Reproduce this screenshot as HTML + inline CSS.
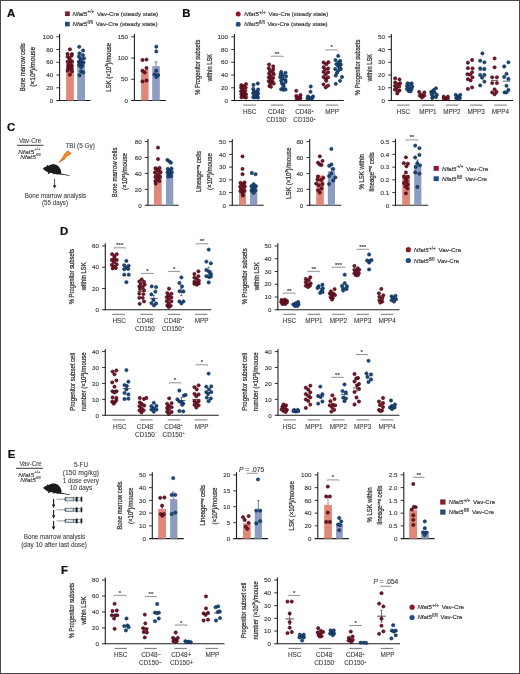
<!DOCTYPE html>
<html><head><meta charset="utf-8"><style>
html,body{margin:0;padding:0;background:#fff;overflow:hidden;}
svg{display:block;font-family:"Liberation Sans", sans-serif;will-change:transform;}
text{stroke:#3a3a3a;stroke-width:0.14px;}
</style></head><body>
<svg width="520" height="674" viewBox="0 0 520 674">
<rect width="520" height="674" fill="#fff"/>
<rect x="0.5" y="0.5" width="519" height="673" fill="none" stroke="#4a4a4a" stroke-width="1"/>
<text x="7.00" y="16.50" font-size="11.4" fill="#0c0c0c" font-weight="bold" style="stroke:#0c0c0c;stroke-width:0.2px">A</text>
<text x="182.30" y="16.50" font-size="11.4" fill="#0c0c0c" font-weight="bold" style="stroke:#0c0c0c;stroke-width:0.2px">B</text>
<text x="7.10" y="130.90" font-size="11.4" fill="#0c0c0c" font-weight="bold" style="stroke:#0c0c0c;stroke-width:0.2px">C</text>
<text x="59.90" y="234.50" font-size="11.4" fill="#0c0c0c" font-weight="bold" style="stroke:#0c0c0c;stroke-width:0.2px">D</text>
<text x="7.80" y="457.50" font-size="11.4" fill="#0c0c0c" font-weight="bold" style="stroke:#0c0c0c;stroke-width:0.2px">E</text>
<text x="61.00" y="573.50" font-size="11.4" fill="#0c0c0c" font-weight="bold" style="stroke:#0c0c0c;stroke-width:0.2px">F</text>
<rect x="65.00" y="11.40" width="4.80" height="4.60" fill="#8b1a2b" />
<rect x="65.00" y="21.80" width="4.80" height="4.60" fill="#1f4e80" />
<text x="72.60" y="15.70" font-size="6.1" fill="#3c3c3c" font-style="italic" textLength="14.5" lengthAdjust="spacingAndGlyphs" style="stroke-width:0.2px">Nfat5</text>
<text x="87.50" y="13.40" font-size="4.5" fill="#3c3c3c" textLength="6.6" lengthAdjust="spacingAndGlyphs" style="stroke-width:0.14px">+/+</text>
<text x="96.90" y="15.70" font-size="6.1" fill="#3c3c3c" textLength="61.30" lengthAdjust="spacingAndGlyphs" style="stroke-width:0.2px">Vav-Cre (steady state)</text>
<text x="72.60" y="26.10" font-size="6.1" fill="#3c3c3c" font-style="italic" textLength="14.5" lengthAdjust="spacingAndGlyphs" style="stroke-width:0.2px">Nfat5</text>
<text x="87.50" y="23.80" font-size="4.5" fill="#3c3c3c" textLength="5.4" lengthAdjust="spacingAndGlyphs" style="stroke-width:0.14px">fl/fl</text>
<text x="95.80" y="26.10" font-size="6.1" fill="#3c3c3c" textLength="61.80" lengthAdjust="spacingAndGlyphs" style="stroke-width:0.2px">Vav-Cre (steady state)</text>
<line x1="59.60" y1="34.10" x2="59.60" y2="101.00" stroke="#1e1e1e" stroke-width="1.1" />
<line x1="56.40" y1="100.50" x2="90.50" y2="100.50" stroke="#1e1e1e" stroke-width="1.1" />
<text x="53.20" y="102.70" font-size="6.2" fill="#3c3c3c" text-anchor="end" >0</text>
<line x1="56.40" y1="87.76" x2="59.60" y2="87.76" stroke="#1e1e1e" stroke-width="0.9" />
<text x="53.20" y="89.96" font-size="6.2" fill="#3c3c3c" text-anchor="end" >20</text>
<line x1="56.40" y1="75.02" x2="59.60" y2="75.02" stroke="#1e1e1e" stroke-width="0.9" />
<text x="53.20" y="77.22" font-size="6.2" fill="#3c3c3c" text-anchor="end" >40</text>
<line x1="56.40" y1="62.28" x2="59.60" y2="62.28" stroke="#1e1e1e" stroke-width="0.9" />
<text x="53.20" y="64.48" font-size="6.2" fill="#3c3c3c" text-anchor="end" >60</text>
<line x1="56.40" y1="49.54" x2="59.60" y2="49.54" stroke="#1e1e1e" stroke-width="0.9" />
<text x="53.20" y="51.74" font-size="6.2" fill="#3c3c3c" text-anchor="end" >80</text>
<line x1="56.40" y1="36.80" x2="59.60" y2="36.80" stroke="#1e1e1e" stroke-width="0.9" />
<text x="53.20" y="39.00" font-size="6.2" fill="#3c3c3c" text-anchor="end" >100</text>
<rect x="66.10" y="62.28" width="7.80" height="38.22" fill="#e2887a" />
<rect x="77.20" y="61.32" width="7.80" height="39.18" fill="#8d9cc0" />
<g fill="#7c1429" stroke="#32060f" stroke-width="0.55"><circle cx="69.90" cy="49.30" r="1.65"/><circle cx="67.60" cy="53.80" r="1.65"/><circle cx="71.90" cy="54.10" r="1.65"/><circle cx="67.60" cy="56.60" r="1.65"/><circle cx="71.60" cy="55.80" r="1.65"/><circle cx="69.30" cy="58.30" r="1.65"/><circle cx="67.60" cy="61.70" r="1.65"/><circle cx="72.10" cy="61.40" r="1.65"/><circle cx="69.90" cy="63.40" r="1.65"/><circle cx="68.20" cy="65.70" r="1.65"/><circle cx="71.60" cy="65.70" r="1.65"/><circle cx="68.20" cy="68.50" r="1.65"/><circle cx="71.60" cy="68.50" r="1.65"/><circle cx="67.60" cy="70.70" r="1.65"/><circle cx="71.90" cy="71.30" r="1.65"/><circle cx="69.90" cy="74.70" r="1.65"/><circle cx="70.00" cy="60.00" r="1.65"/><circle cx="69.50" cy="67.00" r="1.65"/></g>
<g fill="#194a80" stroke="#0a2242" stroke-width="0.55"><circle cx="79.20" cy="46.80" r="1.65"/><circle cx="83.10" cy="50.50" r="1.65"/><circle cx="79.50" cy="53.30" r="1.65"/><circle cx="82.80" cy="55.20" r="1.65"/><circle cx="78.90" cy="56.60" r="1.65"/><circle cx="84.00" cy="58.30" r="1.65"/><circle cx="80.60" cy="58.90" r="1.65"/><circle cx="78.90" cy="61.70" r="1.65"/><circle cx="83.40" cy="62.30" r="1.65"/><circle cx="80.60" cy="63.40" r="1.65"/><circle cx="78.90" cy="65.10" r="1.65"/><circle cx="82.30" cy="65.70" r="1.65"/><circle cx="81.20" cy="71.30" r="1.65"/><circle cx="83.40" cy="72.40" r="1.65"/><circle cx="79.50" cy="75.20" r="1.65"/><circle cx="81.00" cy="60.50" r="1.65"/><circle cx="81.00" cy="67.00" r="1.65"/></g>
<text x="0" y="0" font-size="7.1" fill="#3c3c3c" style="stroke-width:0.28px" text-anchor="middle" transform="translate(25.20,67.35) rotate(-90)" textLength="48" lengthAdjust="spacingAndGlyphs">Bone marrow cells</text>
<text x="0" y="0" font-size="7.1" fill="#3c3c3c" style="stroke-width:0.28px" text-anchor="middle" transform="translate(35.40,66.85) rotate(-90)" textLength="40" lengthAdjust="spacingAndGlyphs">(×10<tspan font-size="4.4" dy="-2.2">6</tspan><tspan dy="2.2">)/mouse</tspan></text>
<line x1="134.40" y1="34.10" x2="134.40" y2="101.00" stroke="#1e1e1e" stroke-width="1.1" />
<line x1="131.20" y1="100.50" x2="166.00" y2="100.50" stroke="#1e1e1e" stroke-width="1.1" />
<text x="128.00" y="102.70" font-size="6.2" fill="#3c3c3c" text-anchor="end" >0</text>
<line x1="131.20" y1="79.27" x2="134.40" y2="79.27" stroke="#1e1e1e" stroke-width="0.9" />
<text x="128.00" y="81.47" font-size="6.2" fill="#3c3c3c" text-anchor="end" >50</text>
<line x1="131.20" y1="58.03" x2="134.40" y2="58.03" stroke="#1e1e1e" stroke-width="0.9" />
<text x="128.00" y="60.23" font-size="6.2" fill="#3c3c3c" text-anchor="end" >100</text>
<line x1="131.20" y1="36.80" x2="134.40" y2="36.80" stroke="#1e1e1e" stroke-width="0.9" />
<text x="128.00" y="39.00" font-size="6.2" fill="#3c3c3c" text-anchor="end" >150</text>
<rect x="141.10" y="69.63" width="7.50" height="30.87" fill="#e2887a" />
<rect x="152.20" y="66.10" width="7.60" height="34.40" fill="#8d9cc0" />
<line x1="156.00" y1="61.86" x2="156.00" y2="66.10" stroke="#2a4a70" stroke-width="0.7" />
<line x1="154.70" y1="61.86" x2="157.30" y2="61.86" stroke="#2a4a70" stroke-width="0.7" />
<g fill="#7c1429" stroke="#32060f" stroke-width="0.55"><circle cx="142.50" cy="60.00" r="1.65"/><circle cx="146.50" cy="59.60" r="1.65"/><circle cx="146.50" cy="68.00" r="1.65"/><circle cx="142.50" cy="70.70" r="1.65"/><circle cx="144.70" cy="72.50" r="1.65"/><circle cx="142.50" cy="81.40" r="1.65"/><circle cx="146.50" cy="80.50" r="1.65"/></g>
<g fill="#194a80" stroke="#0a2242" stroke-width="0.55"><circle cx="156.30" cy="46.70" r="1.65"/><circle cx="156.30" cy="51.40" r="1.65"/><circle cx="156.30" cy="70.70" r="1.65"/><circle cx="154.50" cy="74.30" r="1.65"/><circle cx="158.00" cy="75.20" r="1.65"/><circle cx="156.30" cy="77.00" r="1.65"/></g>
<text x="0" y="0" font-size="7.1" fill="#3c3c3c" style="stroke-width:0.28px" text-anchor="middle" transform="translate(110.60,67.30) rotate(-90)" textLength="48.8" lengthAdjust="spacingAndGlyphs">LSK (×10<tspan font-size="4.4" dy="-2.2">3</tspan><tspan dy="2.2">)/mouse</tspan></text>
<circle cx="238.20" cy="14.10" r="2.5" fill="#8b1a2b"/>
<circle cx="238.20" cy="24.30" r="2.5" fill="#1f4e80"/>
<text x="244.30" y="15.80" font-size="6.1" fill="#3c3c3c" font-style="italic" textLength="14.5" lengthAdjust="spacingAndGlyphs" style="stroke-width:0.2px">Nfat5</text>
<text x="259.20" y="13.50" font-size="4.5" fill="#3c3c3c" textLength="6.6" lengthAdjust="spacingAndGlyphs" style="stroke-width:0.14px">+/+</text>
<text x="268.60" y="15.80" font-size="6.1" fill="#3c3c3c" textLength="59.60" lengthAdjust="spacingAndGlyphs" style="stroke-width:0.2px">Vav-Cre (steady state)</text>
<text x="244.30" y="26.20" font-size="6.1" fill="#3c3c3c" font-style="italic" textLength="14.5" lengthAdjust="spacingAndGlyphs" style="stroke-width:0.2px">Nfat5</text>
<text x="259.20" y="23.90" font-size="4.5" fill="#3c3c3c" textLength="5.4" lengthAdjust="spacingAndGlyphs" style="stroke-width:0.14px">fl/fl</text>
<text x="267.50" y="26.20" font-size="6.1" fill="#3c3c3c" textLength="60.10" lengthAdjust="spacingAndGlyphs" style="stroke-width:0.2px">Vav-Cre (steady state)</text>
<line x1="234.40" y1="34.10" x2="234.40" y2="101.00" stroke="#1e1e1e" stroke-width="1.1" />
<line x1="231.20" y1="100.50" x2="343.80" y2="100.50" stroke="#1e1e1e" stroke-width="1.1" />
<text x="228.00" y="102.70" font-size="6.2" fill="#3c3c3c" text-anchor="end" >0</text>
<line x1="231.20" y1="87.76" x2="234.40" y2="87.76" stroke="#1e1e1e" stroke-width="0.9" />
<text x="228.00" y="89.96" font-size="6.2" fill="#3c3c3c" text-anchor="end" >20</text>
<line x1="231.20" y1="75.02" x2="234.40" y2="75.02" stroke="#1e1e1e" stroke-width="0.9" />
<text x="228.00" y="77.22" font-size="6.2" fill="#3c3c3c" text-anchor="end" >40</text>
<line x1="231.20" y1="62.28" x2="234.40" y2="62.28" stroke="#1e1e1e" stroke-width="0.9" />
<text x="228.00" y="64.48" font-size="6.2" fill="#3c3c3c" text-anchor="end" >60</text>
<line x1="231.20" y1="49.54" x2="234.40" y2="49.54" stroke="#1e1e1e" stroke-width="0.9" />
<text x="228.00" y="51.74" font-size="6.2" fill="#3c3c3c" text-anchor="end" >80</text>
<line x1="231.20" y1="36.80" x2="234.40" y2="36.80" stroke="#1e1e1e" stroke-width="0.9" />
<text x="228.00" y="39.00" font-size="6.2" fill="#3c3c3c" text-anchor="end" >100</text>
<text x="0" y="0" font-size="7.1" fill="#3c3c3c" style="stroke-width:0.28px" text-anchor="middle" transform="translate(200.00,67.20) rotate(-90)" textLength="55" lengthAdjust="spacingAndGlyphs">% Progenitor subsets</text>
<text x="0" y="0" font-size="7.1" fill="#3c3c3c" style="stroke-width:0.28px" text-anchor="middle" transform="translate(211.55,67.50) rotate(-90)" textLength="27.5" lengthAdjust="spacingAndGlyphs">within LSK</text>
<g fill="#7c1429" stroke="#32060f" stroke-width="0.55"><circle cx="246.00" cy="84.10" r="1.65"/><circle cx="241.40" cy="85.20" r="1.65"/><circle cx="243.80" cy="86.20" r="1.65"/><circle cx="241.10" cy="87.60" r="1.65"/><circle cx="245.70" cy="87.60" r="1.65"/><circle cx="242.70" cy="89.50" r="1.65"/><circle cx="241.10" cy="91.30" r="1.65"/><circle cx="245.40" cy="90.80" r="1.65"/><circle cx="243.50" cy="92.70" r="1.65"/><circle cx="241.40" cy="94.30" r="1.65"/><circle cx="246.00" cy="94.30" r="1.65"/><circle cx="243.00" cy="95.90" r="1.65"/><circle cx="244.30" cy="97.00" r="1.65"/><circle cx="246.00" cy="97.50" r="1.65"/><circle cx="241.50" cy="97.30" r="1.65"/></g>
<g fill="#194a80" stroke="#0a2242" stroke-width="0.55"><circle cx="257.80" cy="83.50" r="1.65"/><circle cx="253.50" cy="84.90" r="1.65"/><circle cx="253.20" cy="88.90" r="1.65"/><circle cx="258.10" cy="89.50" r="1.65"/><circle cx="254.00" cy="90.80" r="1.65"/><circle cx="257.50" cy="91.60" r="1.65"/><circle cx="253.20" cy="93.20" r="1.65"/><circle cx="255.90" cy="93.20" r="1.65"/><circle cx="258.10" cy="93.80" r="1.65"/><circle cx="254.30" cy="95.90" r="1.65"/><circle cx="257.00" cy="96.20" r="1.65"/><circle cx="255.40" cy="97.30" r="1.65"/><circle cx="253.30" cy="97.30" r="1.65"/><circle cx="258.00" cy="97.60" r="1.65"/></g>
<g fill="#7c1429" stroke="#32060f" stroke-width="0.55"><circle cx="269.10" cy="64.50" r="1.65"/><circle cx="273.20" cy="66.30" r="1.65"/><circle cx="268.80" cy="68.20" r="1.65"/><circle cx="273.20" cy="69.30" r="1.65"/><circle cx="269.90" cy="70.90" r="1.65"/><circle cx="272.60" cy="72.00" r="1.65"/><circle cx="269.10" cy="73.60" r="1.65"/><circle cx="273.70" cy="74.20" r="1.65"/><circle cx="270.50" cy="75.80" r="1.65"/><circle cx="273.20" cy="77.90" r="1.65"/><circle cx="268.80" cy="81.20" r="1.65"/><circle cx="272.60" cy="81.70" r="1.65"/><circle cx="270.50" cy="83.30" r="1.65"/><circle cx="273.70" cy="83.60" r="1.65"/><circle cx="269.40" cy="86.00" r="1.65"/><circle cx="271.00" cy="86.80" r="1.65"/><circle cx="268.80" cy="77.50" r="1.65"/><circle cx="271.00" cy="79.50" r="1.65"/></g>
<g fill="#194a80" stroke="#0a2242" stroke-width="0.55"><circle cx="281.20" cy="72.00" r="1.65"/><circle cx="285.50" cy="72.80" r="1.65"/><circle cx="280.70" cy="74.20" r="1.65"/><circle cx="282.80" cy="75.20" r="1.65"/><circle cx="286.10" cy="76.30" r="1.65"/><circle cx="280.20" cy="77.10" r="1.65"/><circle cx="282.80" cy="78.50" r="1.65"/><circle cx="285.50" cy="80.10" r="1.65"/><circle cx="281.20" cy="80.60" r="1.65"/><circle cx="285.50" cy="82.00" r="1.65"/><circle cx="281.80" cy="83.30" r="1.65"/><circle cx="283.40" cy="84.90" r="1.65"/><circle cx="281.20" cy="89.20" r="1.65"/><circle cx="283.40" cy="89.80" r="1.65"/><circle cx="285.50" cy="89.50" r="1.65"/><circle cx="283.50" cy="86.50" r="1.65"/></g>
<g fill="#7c1429" stroke="#32060f" stroke-width="0.55"><circle cx="296.30" cy="90.80" r="1.65"/><circle cx="296.30" cy="96.00" r="1.65"/><circle cx="300.50" cy="95.00" r="1.65"/><circle cx="298.00" cy="97.50" r="1.65"/><circle cx="300.50" cy="98.00" r="1.65"/><circle cx="296.80" cy="98.50" r="1.65"/><circle cx="299.00" cy="99.00" r="1.65"/></g>
<g fill="#194a80" stroke="#0a2242" stroke-width="0.55"><circle cx="310.80" cy="86.50" r="1.65"/><circle cx="310.50" cy="91.80" r="1.65"/><circle cx="308.00" cy="96.50" r="1.65"/><circle cx="313.00" cy="96.50" r="1.65"/><circle cx="309.50" cy="98.00" r="1.65"/><circle cx="312.00" cy="98.30" r="1.65"/><circle cx="310.50" cy="98.80" r="1.65"/><circle cx="307.50" cy="98.60" r="1.65"/></g>
<g fill="#7c1429" stroke="#32060f" stroke-width="0.55"><circle cx="323.60" cy="62.50" r="1.65"/><circle cx="328.40" cy="62.20" r="1.65"/><circle cx="326.30" cy="64.20" r="1.65"/><circle cx="323.60" cy="67.20" r="1.65"/><circle cx="328.10" cy="68.40" r="1.65"/><circle cx="325.10" cy="69.60" r="1.65"/><circle cx="323.60" cy="71.90" r="1.65"/><circle cx="328.10" cy="72.20" r="1.65"/><circle cx="325.70" cy="74.30" r="1.65"/><circle cx="323.60" cy="77.00" r="1.65"/><circle cx="328.10" cy="77.30" r="1.65"/><circle cx="325.70" cy="79.10" r="1.65"/><circle cx="326.30" cy="80.80" r="1.65"/><circle cx="323.60" cy="84.40" r="1.65"/><circle cx="328.10" cy="85.60" r="1.65"/><circle cx="325.70" cy="87.40" r="1.65"/></g>
<g fill="#194a80" stroke="#0a2242" stroke-width="0.55"><circle cx="338.20" cy="55.90" r="1.65"/><circle cx="335.50" cy="60.10" r="1.65"/><circle cx="340.20" cy="61.00" r="1.65"/><circle cx="336.40" cy="64.20" r="1.65"/><circle cx="340.80" cy="64.50" r="1.65"/><circle cx="338.20" cy="66.00" r="1.65"/><circle cx="335.20" cy="69.00" r="1.65"/><circle cx="340.80" cy="69.00" r="1.65"/><circle cx="338.20" cy="70.80" r="1.65"/><circle cx="337.00" cy="72.80" r="1.65"/><circle cx="335.80" cy="75.50" r="1.65"/><circle cx="342.00" cy="77.00" r="1.65"/><circle cx="340.00" cy="80.80" r="1.65"/><circle cx="335.80" cy="83.80" r="1.65"/><circle cx="339.50" cy="67.50" r="1.65"/><circle cx="338.50" cy="62.50" r="1.65"/></g>
<line x1="271.20" y1="56.20" x2="283.00" y2="56.20" stroke="#666" stroke-width="0.7" />
<line x1="271.20" y1="56.20" x2="271.20" y2="57.00" stroke="#666" stroke-width="0.6" />
<line x1="283.00" y1="56.20" x2="283.00" y2="57.00" stroke="#666" stroke-width="0.6" />
<text x="277.10" y="55.70" font-size="6.0" fill="#333" text-anchor="middle" >**</text>
<line x1="326.00" y1="49.90" x2="337.40" y2="49.90" stroke="#666" stroke-width="0.7" />
<line x1="326.00" y1="49.90" x2="326.00" y2="50.70" stroke="#666" stroke-width="0.6" />
<line x1="337.40" y1="49.90" x2="337.40" y2="50.70" stroke="#666" stroke-width="0.6" />
<text x="331.70" y="49.40" font-size="6.0" fill="#333" text-anchor="middle" >*</text>
<line x1="243.30" y1="105.10" x2="255.90" y2="105.10" stroke="#606060" stroke-width="0.85" />
<line x1="270.90" y1="105.10" x2="283.50" y2="105.10" stroke="#606060" stroke-width="0.85" />
<line x1="298.10" y1="105.10" x2="310.70" y2="105.10" stroke="#606060" stroke-width="0.85" />
<line x1="325.80" y1="105.10" x2="338.40" y2="105.10" stroke="#606060" stroke-width="0.85" />
<text x="249.60" y="114.30" font-size="6.85" fill="#3c3c3c" text-anchor="middle" textLength="13.45" lengthAdjust="spacingAndGlyphs" style="stroke-width:0.1px">HSC</text>
<text x="277.20" y="114.30" font-size="6.85" fill="#3c3c3c" text-anchor="middle" textLength="18.52" lengthAdjust="spacingAndGlyphs" style="stroke-width:0.1px">CD48<tspan font-size="4.11" dy="-2.6">−</tspan></text>
<text x="277.20" y="122.20" font-size="6.85" fill="#3c3c3c" text-anchor="middle" textLength="22.06" lengthAdjust="spacingAndGlyphs" style="stroke-width:0.1px">CD150<tspan font-size="4.11" dy="-2.6">−</tspan></text>
<text x="304.40" y="114.30" font-size="6.85" fill="#3c3c3c" text-anchor="middle" textLength="18.52" lengthAdjust="spacingAndGlyphs" style="stroke-width:0.1px">CD48<tspan font-size="4.11" dy="-2.6">+</tspan></text>
<text x="304.40" y="122.20" font-size="6.85" fill="#3c3c3c" text-anchor="middle" textLength="22.06" lengthAdjust="spacingAndGlyphs" style="stroke-width:0.1px">CD150<tspan font-size="4.11" dy="-2.6">+</tspan></text>
<text x="332.10" y="114.30" font-size="6.85" fill="#3c3c3c" text-anchor="middle" textLength="13.8" lengthAdjust="spacingAndGlyphs" style="stroke-width:0.1px">MPP</text>
<line x1="391.35" y1="34.10" x2="391.35" y2="101.00" stroke="#1e1e1e" stroke-width="1.1" />
<line x1="388.15" y1="100.50" x2="513.00" y2="100.50" stroke="#1e1e1e" stroke-width="1.1" />
<text x="384.95" y="102.70" font-size="6.2" fill="#3c3c3c" text-anchor="end" >0</text>
<line x1="388.15" y1="87.76" x2="391.35" y2="87.76" stroke="#1e1e1e" stroke-width="0.9" />
<text x="384.95" y="89.96" font-size="6.2" fill="#3c3c3c" text-anchor="end" >10</text>
<line x1="388.15" y1="75.02" x2="391.35" y2="75.02" stroke="#1e1e1e" stroke-width="0.9" />
<text x="384.95" y="77.22" font-size="6.2" fill="#3c3c3c" text-anchor="end" >20</text>
<line x1="388.15" y1="62.28" x2="391.35" y2="62.28" stroke="#1e1e1e" stroke-width="0.9" />
<text x="384.95" y="64.48" font-size="6.2" fill="#3c3c3c" text-anchor="end" >30</text>
<line x1="388.15" y1="49.54" x2="391.35" y2="49.54" stroke="#1e1e1e" stroke-width="0.9" />
<text x="384.95" y="51.74" font-size="6.2" fill="#3c3c3c" text-anchor="end" >40</text>
<line x1="388.15" y1="36.80" x2="391.35" y2="36.80" stroke="#1e1e1e" stroke-width="0.9" />
<text x="384.95" y="39.00" font-size="6.2" fill="#3c3c3c" text-anchor="end" >50</text>
<text x="0" y="0" font-size="7.1" fill="#3c3c3c" style="stroke-width:0.28px" text-anchor="middle" transform="translate(360.40,67.40) rotate(-90)" textLength="55.5" lengthAdjust="spacingAndGlyphs">% Progenitor subsets</text>
<text x="0" y="0" font-size="7.1" fill="#3c3c3c" style="stroke-width:0.28px" text-anchor="middle" transform="translate(371.60,67.50) rotate(-90)" textLength="27.5" lengthAdjust="spacingAndGlyphs">within LSK</text>
<g fill="#7c1429" stroke="#32060f" stroke-width="0.55"><circle cx="395.20" cy="78.30" r="1.65"/><circle cx="399.50" cy="79.50" r="1.65"/><circle cx="395.20" cy="82.40" r="1.65"/><circle cx="400.10" cy="83.30" r="1.65"/><circle cx="397.80" cy="84.10" r="1.65"/><circle cx="394.90" cy="85.80" r="1.65"/><circle cx="399.20" cy="86.40" r="1.65"/><circle cx="396.60" cy="87.90" r="1.65"/><circle cx="394.90" cy="89.60" r="1.65"/><circle cx="399.50" cy="90.50" r="1.65"/><circle cx="397.20" cy="93.40" r="1.65"/><circle cx="397.80" cy="91.50" r="1.65"/></g>
<g fill="#194a80" stroke="#0a2242" stroke-width="0.55"><circle cx="407.60" cy="83.30" r="1.65"/><circle cx="411.60" cy="83.30" r="1.65"/><circle cx="409.30" cy="84.10" r="1.65"/><circle cx="407.00" cy="85.80" r="1.65"/><circle cx="412.20" cy="86.40" r="1.65"/><circle cx="409.30" cy="87.60" r="1.65"/><circle cx="407.00" cy="89.00" r="1.65"/><circle cx="411.60" cy="89.00" r="1.65"/><circle cx="408.70" cy="91.00" r="1.65"/><circle cx="410.50" cy="91.30" r="1.65"/></g>
<g fill="#7c1429" stroke="#32060f" stroke-width="0.55"><circle cx="419.20" cy="92.00" r="1.65"/><circle cx="424.30" cy="92.50" r="1.65"/><circle cx="421.50" cy="94.80" r="1.65"/><circle cx="419.70" cy="95.70" r="1.65"/><circle cx="424.30" cy="95.70" r="1.65"/><circle cx="422.00" cy="97.50" r="1.65"/></g>
<g fill="#194a80" stroke="#0a2242" stroke-width="0.55"><circle cx="435.90" cy="88.30" r="1.65"/><circle cx="433.50" cy="90.20" r="1.65"/><circle cx="431.20" cy="92.00" r="1.65"/><circle cx="434.50" cy="92.50" r="1.65"/><circle cx="431.70" cy="94.30" r="1.65"/><circle cx="436.80" cy="94.80" r="1.65"/><circle cx="433.10" cy="96.60" r="1.65"/><circle cx="435.90" cy="97.10" r="1.65"/><circle cx="432.20" cy="98.00" r="1.65"/></g>
<g fill="#7c1429" stroke="#32060f" stroke-width="0.55"><circle cx="443.70" cy="96.60" r="1.65"/><circle cx="447.90" cy="96.60" r="1.65"/><circle cx="445.50" cy="98.50" r="1.65"/><circle cx="443.70" cy="98.80" r="1.65"/><circle cx="447.80" cy="98.80" r="1.65"/></g>
<g fill="#194a80" stroke="#0a2242" stroke-width="0.55"><circle cx="455.70" cy="94.80" r="1.65"/><circle cx="460.30" cy="94.80" r="1.65"/><circle cx="458.00" cy="96.60" r="1.65"/><circle cx="456.20" cy="98.00" r="1.65"/><circle cx="459.90" cy="98.00" r="1.65"/><circle cx="458.00" cy="98.80" r="1.65"/></g>
<g fill="#7c1429" stroke="#32060f" stroke-width="0.55"><circle cx="472.10" cy="60.00" r="1.65"/><circle cx="467.90" cy="62.70" r="1.65"/><circle cx="467.90" cy="68.20" r="1.65"/><circle cx="472.50" cy="68.40" r="1.65"/><circle cx="472.10" cy="72.30" r="1.65"/><circle cx="467.50" cy="74.20" r="1.65"/><circle cx="470.20" cy="74.60" r="1.65"/><circle cx="472.50" cy="77.30" r="1.65"/><circle cx="467.90" cy="79.20" r="1.65"/><circle cx="470.60" cy="80.40" r="1.65"/><circle cx="472.10" cy="87.40" r="1.65"/><circle cx="467.90" cy="88.90" r="1.65"/></g>
<line x1="478.70" y1="70.00" x2="485.90" y2="70.00" stroke="#1b3c60" stroke-width="0.8" />
<g fill="#194a80" stroke="#0a2242" stroke-width="0.55"><circle cx="482.40" cy="53.40" r="1.65"/><circle cx="480.20" cy="60.70" r="1.65"/><circle cx="484.40" cy="62.30" r="1.65"/><circle cx="480.20" cy="68.40" r="1.65"/><circle cx="484.40" cy="68.80" r="1.65"/><circle cx="480.20" cy="75.00" r="1.65"/><circle cx="484.40" cy="75.00" r="1.65"/><circle cx="482.10" cy="77.70" r="1.65"/><circle cx="484.40" cy="81.60" r="1.65"/><circle cx="480.20" cy="85.40" r="1.65"/></g>
<line x1="491.00" y1="80.40" x2="498.20" y2="80.40" stroke="#5a1a20" stroke-width="0.8" />
<g fill="#7c1429" stroke="#32060f" stroke-width="0.55"><circle cx="494.60" cy="58.40" r="1.65"/><circle cx="494.60" cy="67.30" r="1.65"/><circle cx="492.20" cy="77.30" r="1.65"/><circle cx="496.90" cy="77.30" r="1.65"/><circle cx="492.20" cy="83.10" r="1.65"/><circle cx="496.90" cy="83.10" r="1.65"/><circle cx="494.60" cy="89.30" r="1.65"/><circle cx="492.20" cy="92.40" r="1.65"/><circle cx="496.50" cy="92.00" r="1.65"/><circle cx="494.60" cy="94.30" r="1.65"/></g>
<line x1="502.80" y1="81.20" x2="510.40" y2="81.20" stroke="#1b3c60" stroke-width="0.8" />
<g fill="#194a80" stroke="#0a2242" stroke-width="0.55"><circle cx="508.40" cy="62.30" r="1.65"/><circle cx="504.20" cy="66.50" r="1.65"/><circle cx="506.50" cy="73.80" r="1.65"/><circle cx="504.20" cy="76.90" r="1.65"/><circle cx="508.40" cy="78.90" r="1.65"/><circle cx="506.50" cy="85.80" r="1.65"/><circle cx="508.40" cy="90.00" r="1.65"/><circle cx="504.60" cy="92.40" r="1.65"/><circle cx="506.50" cy="92.40" r="1.65"/></g>
<line x1="397.10" y1="105.10" x2="409.70" y2="105.10" stroke="#606060" stroke-width="0.85" />
<text x="403.40" y="114.30" font-size="6.85" fill="#3c3c3c" text-anchor="middle" textLength="13.45" lengthAdjust="spacingAndGlyphs" style="stroke-width:0.1px">HSC</text>
<line x1="421.70" y1="105.10" x2="434.30" y2="105.10" stroke="#606060" stroke-width="0.85" />
<text x="428.00" y="114.30" font-size="6.85" fill="#3c3c3c" text-anchor="middle" textLength="17.35" lengthAdjust="spacingAndGlyphs" style="stroke-width:0.1px">MPP1</text>
<line x1="445.70" y1="105.10" x2="458.30" y2="105.10" stroke="#606060" stroke-width="0.85" />
<text x="452.00" y="114.30" font-size="6.85" fill="#3c3c3c" text-anchor="middle" textLength="17.35" lengthAdjust="spacingAndGlyphs" style="stroke-width:0.1px">MPP2</text>
<line x1="469.90" y1="105.10" x2="482.50" y2="105.10" stroke="#606060" stroke-width="0.85" />
<text x="476.20" y="114.30" font-size="6.85" fill="#3c3c3c" text-anchor="middle" textLength="17.35" lengthAdjust="spacingAndGlyphs" style="stroke-width:0.1px">MPP3</text>
<line x1="494.20" y1="105.10" x2="506.80" y2="105.10" stroke="#606060" stroke-width="0.85" />
<text x="500.50" y="114.30" font-size="6.85" fill="#3c3c3c" text-anchor="middle" textLength="17.35" lengthAdjust="spacingAndGlyphs" style="stroke-width:0.1px">MPP4</text>
<text x="30.00" y="142.80" font-size="6.6" fill="#3c3c3c" text-anchor="middle" textLength="22.2" lengthAdjust="spacingAndGlyphs" style="stroke-width:0.08px">Vav-Cre</text>
<line x1="16.80" y1="145.30" x2="43.50" y2="145.30" stroke="#222" stroke-width="0.9" />
<text x="18.3" y="153.50" font-size="6.0" fill="#3c3c3c" font-style="italic" textLength="15.8" lengthAdjust="spacingAndGlyphs">Nfat5</text>
<text x="34.6" y="150.40" font-size="4.3" fill="#3c3c3c" textLength="5.8" lengthAdjust="spacingAndGlyphs" style="stroke-width:0.12px">+/+</text>
<text x="20.2" y="159.40" font-size="6.0" fill="#3c3c3c" font-style="italic" textLength="15.6" lengthAdjust="spacingAndGlyphs">Nfat5</text>
<text x="36.0" y="156.30" font-size="4.3" fill="#3c3c3c" textLength="4.4" lengthAdjust="spacingAndGlyphs" style="stroke-width:0.12px">fl/fl</text>
<text x="80.10" y="148.00" font-size="6.6" fill="#3c3c3c" text-anchor="middle" textLength="29.4" lengthAdjust="spacingAndGlyphs" style="stroke-width:0.08px">TBI (5 Gy)</text>
<polygon points="58.8,162.4 62.9,157.3 64.4,154.2 67.7,150.7 71.2,153.5 68.7,155.3 67.2,155.7 64.4,159.4" fill="#ef8a24" stroke="#b9501a" stroke-width="0.55" stroke-linejoin="round"/>
<path d="M0,4.2 C0.6,3.2 2,2.6 3.3,2.3 L4.0,1.0 C4.6,0.6 5.2,1.0 5.2,1.8 C7,0.3 10,-0.3 12.2,0.3 C15.5,1.2 17.6,4.2 18.1,7.2 C18.3,8.2 18.0,8.8 17.6,9.0 C19.6,9.6 23.2,10.2 26.7,11.1 L26.5,11.6 C23,11.2 19.5,10.6 17.2,10.3 L14.6,10.3 C13.5,10.3 12.6,10.0 11.8,9.6 L11.0,10.1 L9.8,10.1 L10.2,9.3 C8.6,9.0 7.3,8.7 6.6,8.6 L5.8,9.7 L4.5,9.7 L5.2,8.4 C3.5,7.6 1.6,6.0 0.4,5.3 C-0.1,5.0 -0.2,4.6 0,4.2 Z" fill="#1c1c1c" transform="translate(43.1,164.2)"/>
<line x1="54.60" y1="178.80" x2="54.60" y2="186.00" stroke="#222" stroke-width="0.8" />
<polygon points="52.8,185.2 56.4,185.2 54.6,188.4" fill="#222"/>
<text x="55.40" y="198.00" font-size="6.6" fill="#3c3c3c" text-anchor="middle" textLength="61.4" lengthAdjust="spacingAndGlyphs" style="stroke-width:0.08px">Bone marrow analysis</text>
<text x="55.00" y="205.00" font-size="6.6" fill="#3c3c3c" text-anchor="middle" textLength="26" lengthAdjust="spacingAndGlyphs" style="stroke-width:0.08px">(55 days)</text>
<line x1="148.00" y1="138.90" x2="148.00" y2="205.80" stroke="#1e1e1e" stroke-width="1.1" />
<line x1="144.80" y1="205.30" x2="178.80" y2="205.30" stroke="#1e1e1e" stroke-width="1.1" />
<text x="141.60" y="207.50" font-size="6.2" fill="#3c3c3c" text-anchor="end" >0</text>
<line x1="144.80" y1="189.38" x2="148.00" y2="189.38" stroke="#1e1e1e" stroke-width="0.9" />
<text x="141.60" y="191.57" font-size="6.2" fill="#3c3c3c" text-anchor="end" >20</text>
<line x1="144.80" y1="173.45" x2="148.00" y2="173.45" stroke="#1e1e1e" stroke-width="0.9" />
<text x="141.60" y="175.65" font-size="6.2" fill="#3c3c3c" text-anchor="end" >40</text>
<line x1="144.80" y1="157.53" x2="148.00" y2="157.53" stroke="#1e1e1e" stroke-width="0.9" />
<text x="141.60" y="159.73" font-size="6.2" fill="#3c3c3c" text-anchor="end" >60</text>
<line x1="144.80" y1="141.60" x2="148.00" y2="141.60" stroke="#1e1e1e" stroke-width="0.9" />
<text x="141.60" y="143.80" font-size="6.2" fill="#3c3c3c" text-anchor="end" >80</text>
<rect x="154.00" y="167.88" width="7.70" height="37.42" fill="#e2887a" />
<rect x="166.00" y="169.07" width="7.30" height="36.23" fill="#8d9cc0" />
<g fill="#7c1429" stroke="#32060f" stroke-width="0.55"><circle cx="158.00" cy="147.60" r="1.65"/><circle cx="158.00" cy="159.10" r="1.65"/><circle cx="155.50" cy="168.20" r="1.65"/><circle cx="159.50" cy="167.80" r="1.65"/><circle cx="157.50" cy="170.00" r="1.65"/><circle cx="155.00" cy="172.50" r="1.65"/><circle cx="160.50" cy="172.30" r="1.65"/><circle cx="157.80" cy="174.80" r="1.65"/><circle cx="155.50" cy="177.00" r="1.65"/><circle cx="160.00" cy="176.80" r="1.65"/><circle cx="157.80" cy="179.00" r="1.65"/><circle cx="155.50" cy="181.20" r="1.65"/><circle cx="159.50" cy="181.00" r="1.65"/><circle cx="155.80" cy="183.60" r="1.65"/><circle cx="158.50" cy="170.50" r="1.65"/></g>
<g fill="#194a80" stroke="#0a2242" stroke-width="0.55"><circle cx="167.40" cy="160.00" r="1.65"/><circle cx="170.90" cy="162.70" r="1.65"/><circle cx="169.50" cy="161.50" r="1.65"/><circle cx="167.80" cy="168.80" r="1.65"/><circle cx="171.50" cy="168.50" r="1.65"/><circle cx="169.50" cy="170.80" r="1.65"/><circle cx="167.50" cy="172.50" r="1.65"/><circle cx="171.80" cy="172.50" r="1.65"/><circle cx="169.70" cy="174.50" r="1.65"/><circle cx="168.20" cy="176.50" r="1.65"/><circle cx="171.00" cy="176.20" r="1.65"/></g>
<text x="0" y="0" font-size="7.1" fill="#3c3c3c" style="stroke-width:0.28px" text-anchor="middle" transform="translate(116.90,172.50) rotate(-90)" textLength="50" lengthAdjust="spacingAndGlyphs">Bone marrow cells</text>
<text x="0" y="0" font-size="7.1" fill="#3c3c3c" style="stroke-width:0.28px" text-anchor="middle" transform="translate(127.30,171.50) rotate(-90)" textLength="37" lengthAdjust="spacingAndGlyphs">(×10<tspan font-size="4.4" dy="-2.2">6</tspan><tspan dy="2.2">)/mouse</tspan></text>
<line x1="232.30" y1="138.90" x2="232.30" y2="205.80" stroke="#1e1e1e" stroke-width="1.1" />
<line x1="229.10" y1="205.30" x2="263.80" y2="205.30" stroke="#1e1e1e" stroke-width="1.1" />
<text x="225.90" y="207.50" font-size="6.2" fill="#3c3c3c" text-anchor="end" >0</text>
<line x1="229.10" y1="192.56" x2="232.30" y2="192.56" stroke="#1e1e1e" stroke-width="0.9" />
<text x="225.90" y="194.76" font-size="6.2" fill="#3c3c3c" text-anchor="end" >10</text>
<line x1="229.10" y1="179.82" x2="232.30" y2="179.82" stroke="#1e1e1e" stroke-width="0.9" />
<text x="225.90" y="182.02" font-size="6.2" fill="#3c3c3c" text-anchor="end" >20</text>
<line x1="229.10" y1="167.08" x2="232.30" y2="167.08" stroke="#1e1e1e" stroke-width="0.9" />
<text x="225.90" y="169.28" font-size="6.2" fill="#3c3c3c" text-anchor="end" >30</text>
<line x1="229.10" y1="154.34" x2="232.30" y2="154.34" stroke="#1e1e1e" stroke-width="0.9" />
<text x="225.90" y="156.54" font-size="6.2" fill="#3c3c3c" text-anchor="end" >40</text>
<line x1="229.10" y1="141.60" x2="232.30" y2="141.60" stroke="#1e1e1e" stroke-width="0.9" />
<text x="225.90" y="143.80" font-size="6.2" fill="#3c3c3c" text-anchor="end" >50</text>
<rect x="239.00" y="181.86" width="7.00" height="23.44" fill="#e2887a" />
<rect x="250.00" y="184.66" width="7.30" height="20.64" fill="#8d9cc0" />
<g fill="#7c1429" stroke="#32060f" stroke-width="0.55"><circle cx="242.50" cy="156.40" r="1.65"/><circle cx="242.50" cy="168.90" r="1.65"/><circle cx="242.50" cy="174.20" r="1.65"/><circle cx="240.50" cy="182.80" r="1.65"/><circle cx="244.50" cy="182.50" r="1.65"/><circle cx="242.50" cy="184.50" r="1.65"/><circle cx="240.20" cy="186.80" r="1.65"/><circle cx="244.80" cy="186.50" r="1.65"/><circle cx="242.40" cy="188.80" r="1.65"/><circle cx="240.50" cy="191.00" r="1.65"/><circle cx="244.50" cy="190.80" r="1.65"/><circle cx="242.50" cy="193.00" r="1.65"/><circle cx="243.00" cy="195.50" r="1.65"/></g>
<g fill="#194a80" stroke="#0a2242" stroke-width="0.55"><circle cx="251.80" cy="173.00" r="1.65"/><circle cx="255.60" cy="174.20" r="1.65"/><circle cx="253.60" cy="184.20" r="1.65"/><circle cx="251.50" cy="186.20" r="1.65"/><circle cx="255.80" cy="186.20" r="1.65"/><circle cx="253.60" cy="188.30" r="1.65"/><circle cx="251.50" cy="190.50" r="1.65"/><circle cx="255.50" cy="190.50" r="1.65"/><circle cx="253.60" cy="192.80" r="1.65"/></g>
<text x="0" y="0" font-size="7.1" fill="#3c3c3c" style="stroke-width:0.28px" text-anchor="middle" transform="translate(200.90,171.60) rotate(-90)" textLength="41" lengthAdjust="spacingAndGlyphs">Lineage<tspan font-size="4.2" dy="-2.2">neg</tspan><tspan dy="2.2"> cells</tspan></text>
<text x="0" y="0" font-size="7.1" fill="#3c3c3c" style="stroke-width:0.28px" text-anchor="middle" transform="translate(211.80,171.50) rotate(-90)" textLength="37" lengthAdjust="spacingAndGlyphs">(×10<tspan font-size="4.4" dy="-2.2">6</tspan><tspan dy="2.2">)/mouse</tspan></text>
<line x1="309.70" y1="138.90" x2="309.70" y2="205.80" stroke="#1e1e1e" stroke-width="1.1" />
<line x1="306.50" y1="205.30" x2="341.30" y2="205.30" stroke="#1e1e1e" stroke-width="1.1" />
<text x="303.30" y="207.50" font-size="6.2" fill="#3c3c3c" text-anchor="end" >0</text>
<line x1="306.50" y1="189.38" x2="309.70" y2="189.38" stroke="#1e1e1e" stroke-width="0.9" />
<text x="303.30" y="191.57" font-size="6.2" fill="#3c3c3c" text-anchor="end" >20</text>
<line x1="306.50" y1="173.45" x2="309.70" y2="173.45" stroke="#1e1e1e" stroke-width="0.9" />
<text x="303.30" y="175.65" font-size="6.2" fill="#3c3c3c" text-anchor="end" >40</text>
<line x1="306.50" y1="157.53" x2="309.70" y2="157.53" stroke="#1e1e1e" stroke-width="0.9" />
<text x="303.30" y="159.73" font-size="6.2" fill="#3c3c3c" text-anchor="end" >60</text>
<line x1="306.50" y1="141.60" x2="309.70" y2="141.60" stroke="#1e1e1e" stroke-width="0.9" />
<text x="303.30" y="143.80" font-size="6.2" fill="#3c3c3c" text-anchor="end" >80</text>
<rect x="316.20" y="175.44" width="7.60" height="29.86" fill="#e2887a" />
<rect x="327.80" y="171.22" width="7.20" height="34.08" fill="#8d9cc0" />
<line x1="331.40" y1="168.04" x2="331.40" y2="171.22" stroke="#2a4a70" stroke-width="0.7" />
<line x1="330.10" y1="168.04" x2="332.70" y2="168.04" stroke="#2a4a70" stroke-width="0.7" />
<g fill="#7c1429" stroke="#32060f" stroke-width="0.55"><circle cx="319.80" cy="156.30" r="1.65"/><circle cx="322.50" cy="160.90" r="1.65"/><circle cx="318.00" cy="162.70" r="1.65"/><circle cx="319.80" cy="164.50" r="1.65"/><circle cx="321.50" cy="165.00" r="1.65"/><circle cx="318.00" cy="176.50" r="1.65"/><circle cx="323.40" cy="177.80" r="1.65"/><circle cx="321.10" cy="180.00" r="1.65"/><circle cx="316.20" cy="183.60" r="1.65"/><circle cx="318.90" cy="185.40" r="1.65"/><circle cx="321.60" cy="188.50" r="1.65"/><circle cx="318.00" cy="190.30" r="1.65"/><circle cx="319.80" cy="192.50" r="1.65"/><circle cx="322.50" cy="184.00" r="1.65"/><circle cx="317.50" cy="179.50" r="1.65"/></g>
<g fill="#194a80" stroke="#0a2242" stroke-width="0.55"><circle cx="331.40" cy="148.90" r="1.65"/><circle cx="331.40" cy="164.50" r="1.65"/><circle cx="329.10" cy="165.80" r="1.65"/><circle cx="333.20" cy="169.00" r="1.65"/><circle cx="331.40" cy="173.40" r="1.65"/><circle cx="329.10" cy="176.10" r="1.65"/><circle cx="335.40" cy="177.40" r="1.65"/><circle cx="333.20" cy="180.50" r="1.65"/><circle cx="329.10" cy="184.10" r="1.65"/></g>
<text x="0" y="0" font-size="7.1" fill="#3c3c3c" style="stroke-width:0.28px" text-anchor="middle" transform="translate(290.60,173.30) rotate(-90)" textLength="51.4" lengthAdjust="spacingAndGlyphs">LSK (×10<tspan font-size="4.4" dy="-2.2">3</tspan><tspan dy="2.2">)/mouse</tspan></text>
<line x1="395.50" y1="138.90" x2="395.50" y2="205.80" stroke="#1e1e1e" stroke-width="1.1" />
<line x1="392.30" y1="205.30" x2="428.20" y2="205.30" stroke="#1e1e1e" stroke-width="1.1" />
<text x="389.10" y="207.50" font-size="6.2" fill="#3c3c3c" text-anchor="end" >0</text>
<line x1="392.30" y1="192.56" x2="395.50" y2="192.56" stroke="#1e1e1e" stroke-width="0.9" />
<text x="389.10" y="194.76" font-size="6.2" fill="#3c3c3c" text-anchor="end" >0.1</text>
<line x1="392.30" y1="179.82" x2="395.50" y2="179.82" stroke="#1e1e1e" stroke-width="0.9" />
<text x="389.10" y="182.02" font-size="6.2" fill="#3c3c3c" text-anchor="end" >0.2</text>
<line x1="392.30" y1="167.08" x2="395.50" y2="167.08" stroke="#1e1e1e" stroke-width="0.9" />
<text x="389.10" y="169.28" font-size="6.2" fill="#3c3c3c" text-anchor="end" >0.3</text>
<line x1="392.30" y1="154.34" x2="395.50" y2="154.34" stroke="#1e1e1e" stroke-width="0.9" />
<text x="389.10" y="156.54" font-size="6.2" fill="#3c3c3c" text-anchor="end" >0.4</text>
<line x1="392.30" y1="141.60" x2="395.50" y2="141.60" stroke="#1e1e1e" stroke-width="0.9" />
<text x="389.10" y="143.80" font-size="6.2" fill="#3c3c3c" text-anchor="end" >0.5</text>
<rect x="402.20" y="174.72" width="7.80" height="30.58" fill="#e2887a" />
<rect x="414.20" y="164.53" width="7.20" height="40.77" fill="#8d9cc0" />
<line x1="417.60" y1="160.07" x2="417.60" y2="164.53" stroke="#2a4a70" stroke-width="0.7" />
<line x1="416.30" y1="160.07" x2="418.90" y2="160.07" stroke="#2a4a70" stroke-width="0.7" />
<g fill="#7c1429" stroke="#32060f" stroke-width="0.55"><circle cx="405.90" cy="157.30" r="1.65"/><circle cx="403.80" cy="163.20" r="1.65"/><circle cx="407.90" cy="163.70" r="1.65"/><circle cx="406.40" cy="166.30" r="1.65"/><circle cx="405.90" cy="172.40" r="1.65"/><circle cx="404.00" cy="176.50" r="1.65"/><circle cx="407.80" cy="177.00" r="1.65"/><circle cx="405.50" cy="179.00" r="1.65"/><circle cx="406.80" cy="181.00" r="1.65"/><circle cx="404.00" cy="183.00" r="1.65"/><circle cx="407.80" cy="184.50" r="1.65"/><circle cx="405.50" cy="186.50" r="1.65"/><circle cx="405.90" cy="193.30" r="1.65"/><circle cx="407.50" cy="188.50" r="1.65"/></g>
<g fill="#194a80" stroke="#0a2242" stroke-width="0.55"><circle cx="415.20" cy="145.60" r="1.65"/><circle cx="419.40" cy="148.20" r="1.65"/><circle cx="419.40" cy="154.90" r="1.65"/><circle cx="415.20" cy="157.50" r="1.65"/><circle cx="417.30" cy="163.20" r="1.65"/><circle cx="419.90" cy="165.30" r="1.65"/><circle cx="415.70" cy="166.90" r="1.65"/><circle cx="415.20" cy="172.40" r="1.65"/><circle cx="419.40" cy="173.60" r="1.65"/><circle cx="417.30" cy="186.90" r="1.65"/></g>
<line x1="405.90" y1="139.90" x2="417.80" y2="139.90" stroke="#666" stroke-width="0.7" />
<line x1="405.90" y1="139.90" x2="405.90" y2="140.70" stroke="#666" stroke-width="0.6" />
<line x1="417.80" y1="139.90" x2="417.80" y2="140.70" stroke="#666" stroke-width="0.6" />
<text x="411.85" y="139.40" font-size="6.0" fill="#333" text-anchor="middle" >**</text>
<text x="0" y="0" font-size="7.1" fill="#3c3c3c" style="stroke-width:0.28px" text-anchor="middle" transform="translate(364.10,171.80) rotate(-90)" textLength="35.4" lengthAdjust="spacingAndGlyphs">% LSK within</text>
<text x="0" y="0" font-size="7.1" fill="#3c3c3c" style="stroke-width:0.28px" text-anchor="middle" transform="translate(373.50,171.80) rotate(-90)" textLength="39.4" lengthAdjust="spacingAndGlyphs">lineage<tspan font-size="4.2" dy="-2.2">neg</tspan><tspan dy="2.2"> cells</tspan></text>
<rect x="433.60" y="166.00" width="5.20" height="4.80" fill="#8b1a2b" />
<rect x="433.60" y="176.30" width="5.20" height="4.80" fill="#1f4e80" />
<text x="442.00" y="170.60" font-size="6.1" fill="#3c3c3c" font-style="italic" textLength="14.5" lengthAdjust="spacingAndGlyphs" style="stroke-width:0.2px">Nfat5</text>
<text x="456.90" y="168.30" font-size="4.5" fill="#3c3c3c" textLength="6.6" lengthAdjust="spacingAndGlyphs" style="stroke-width:0.14px">+/+</text>
<text x="466.30" y="170.60" font-size="6.1" fill="#3c3c3c" textLength="22.00" lengthAdjust="spacingAndGlyphs" style="stroke-width:0.2px">Vav-Cre</text>
<text x="442.00" y="180.90" font-size="6.1" fill="#3c3c3c" font-style="italic" textLength="14.5" lengthAdjust="spacingAndGlyphs" style="stroke-width:0.2px">Nfat5</text>
<text x="456.90" y="178.60" font-size="4.5" fill="#3c3c3c" textLength="5.4" lengthAdjust="spacingAndGlyphs" style="stroke-width:0.14px">fl/fl</text>
<text x="465.20" y="180.90" font-size="6.1" fill="#3c3c3c" textLength="21.80" lengthAdjust="spacingAndGlyphs" style="stroke-width:0.2px">Vav-Cre</text>
<line x1="105.30" y1="243.30" x2="105.30" y2="310.20" stroke="#1e1e1e" stroke-width="1.1" />
<line x1="102.10" y1="309.70" x2="211.30" y2="309.70" stroke="#1e1e1e" stroke-width="1.1" />
<text x="98.90" y="311.90" font-size="6.2" fill="#3c3c3c" text-anchor="end" >0</text>
<line x1="102.10" y1="288.47" x2="105.30" y2="288.47" stroke="#1e1e1e" stroke-width="0.9" />
<text x="98.90" y="290.67" font-size="6.2" fill="#3c3c3c" text-anchor="end" >20</text>
<line x1="102.10" y1="267.23" x2="105.30" y2="267.23" stroke="#1e1e1e" stroke-width="0.9" />
<text x="98.90" y="269.43" font-size="6.2" fill="#3c3c3c" text-anchor="end" >40</text>
<line x1="102.10" y1="246.00" x2="105.30" y2="246.00" stroke="#1e1e1e" stroke-width="0.9" />
<text x="98.90" y="248.20" font-size="6.2" fill="#3c3c3c" text-anchor="end" >60</text>
<text x="0" y="0" font-size="7.1" fill="#3c3c3c" style="stroke-width:0.28px" text-anchor="middle" transform="translate(74.20,276.50) rotate(-90)" textLength="55.6" lengthAdjust="spacingAndGlyphs">% Progenitor subsets</text>
<text x="0" y="0" font-size="7.1" fill="#3c3c3c" style="stroke-width:0.28px" text-anchor="middle" transform="translate(85.90,276.25) rotate(-90)" textLength="28" lengthAdjust="spacingAndGlyphs">within LSK</text>
<g fill="#7c1429" stroke="#32060f" stroke-width="0.55"><circle cx="112.20" cy="254.20" r="1.65"/><circle cx="116.70" cy="254.20" r="1.65"/><circle cx="114.40" cy="256.40" r="1.65"/><circle cx="111.80" cy="260.00" r="1.65"/><circle cx="116.70" cy="260.00" r="1.65"/><circle cx="114.00" cy="262.20" r="1.65"/><circle cx="111.80" cy="264.90" r="1.65"/><circle cx="116.70" cy="264.40" r="1.65"/><circle cx="114.00" cy="266.70" r="1.65"/><circle cx="112.70" cy="268.40" r="1.65"/><circle cx="115.80" cy="268.00" r="1.65"/><circle cx="114.30" cy="258.50" r="1.65"/></g>
<g fill="#194a80" stroke="#0a2242" stroke-width="0.55"><circle cx="126.40" cy="260.90" r="1.65"/><circle cx="124.20" cy="265.30" r="1.65"/><circle cx="128.70" cy="265.80" r="1.65"/><circle cx="126.40" cy="267.60" r="1.65"/><circle cx="124.20" cy="269.30" r="1.65"/><circle cx="128.20" cy="268.90" r="1.65"/><circle cx="124.20" cy="274.70" r="1.65"/><circle cx="128.70" cy="274.70" r="1.65"/><circle cx="126.40" cy="282.20" r="1.65"/></g>
<line x1="122.80" y1="268.50" x2="130.00" y2="268.50" stroke="#1b3c60" stroke-width="0.8" />
<g fill="#7c1429" stroke="#32060f" stroke-width="0.55"><circle cx="141.70" cy="279.40" r="1.65"/><circle cx="139.30" cy="281.40" r="1.65"/><circle cx="144.00" cy="282.00" r="1.65"/><circle cx="140.70" cy="284.00" r="1.65"/><circle cx="144.70" cy="284.70" r="1.65"/><circle cx="139.30" cy="286.40" r="1.65"/><circle cx="142.70" cy="287.10" r="1.65"/><circle cx="140.00" cy="289.10" r="1.65"/><circle cx="144.00" cy="290.10" r="1.65"/><circle cx="139.30" cy="293.70" r="1.65"/><circle cx="143.40" cy="294.10" r="1.65"/><circle cx="139.30" cy="297.80" r="1.65"/><circle cx="142.70" cy="297.80" r="1.65"/><circle cx="144.00" cy="301.40" r="1.65"/><circle cx="139.70" cy="303.80" r="1.65"/></g>
<line x1="137.70" y1="291.40" x2="145.70" y2="291.40" stroke="#3a1a1a" stroke-width="0.8" />
<g fill="#194a80" stroke="#0a2242" stroke-width="0.55"><circle cx="151.70" cy="286.40" r="1.65"/><circle cx="156.10" cy="287.10" r="1.65"/><circle cx="155.40" cy="291.70" r="1.65"/><circle cx="151.40" cy="294.40" r="1.65"/><circle cx="153.40" cy="299.80" r="1.65"/><circle cx="151.40" cy="303.10" r="1.65"/><circle cx="156.10" cy="303.40" r="1.65"/><circle cx="154.00" cy="305.40" r="1.65"/></g>
<line x1="149.90" y1="298.40" x2="157.70" y2="298.40" stroke="#1b3c60" stroke-width="0.8" />
<line x1="153.80" y1="295.40" x2="153.80" y2="301.40" stroke="#1b3c60" stroke-width="0.6" />
<line x1="152.60" y1="295.40" x2="155.00" y2="295.40" stroke="#1b3c60" stroke-width="0.6" />
<line x1="152.60" y1="301.40" x2="155.00" y2="301.40" stroke="#1b3c60" stroke-width="0.6" />
<g fill="#7c1429" stroke="#32060f" stroke-width="0.55"><circle cx="169.00" cy="288.70" r="1.65"/><circle cx="167.30" cy="293.10" r="1.65"/><circle cx="171.40" cy="293.70" r="1.65"/><circle cx="168.70" cy="295.40" r="1.65"/><circle cx="166.70" cy="297.10" r="1.65"/><circle cx="171.40" cy="297.40" r="1.65"/><circle cx="168.70" cy="299.10" r="1.65"/><circle cx="166.70" cy="301.10" r="1.65"/><circle cx="171.40" cy="301.40" r="1.65"/><circle cx="168.70" cy="303.40" r="1.65"/><circle cx="167.30" cy="305.40" r="1.65"/><circle cx="170.70" cy="305.80" r="1.65"/><circle cx="168.70" cy="307.10" r="1.65"/></g>
<g fill="#194a80" stroke="#0a2242" stroke-width="0.55"><circle cx="181.40" cy="277.40" r="1.65"/><circle cx="179.40" cy="283.00" r="1.65"/><circle cx="182.00" cy="286.40" r="1.65"/><circle cx="179.70" cy="291.10" r="1.65"/><circle cx="183.40" cy="291.40" r="1.65"/><circle cx="179.40" cy="301.40" r="1.65"/><circle cx="183.40" cy="301.40" r="1.65"/><circle cx="181.40" cy="303.40" r="1.65"/></g>
<line x1="177.70" y1="292.10" x2="185.10" y2="292.10" stroke="#1b3c60" stroke-width="0.8" />
<line x1="181.40" y1="288.60" x2="181.40" y2="295.60" stroke="#1b3c60" stroke-width="0.6" />
<line x1="180.20" y1="288.60" x2="182.60" y2="288.60" stroke="#1b3c60" stroke-width="0.6" />
<line x1="180.20" y1="295.60" x2="182.60" y2="295.60" stroke="#1b3c60" stroke-width="0.6" />
<g fill="#7c1429" stroke="#32060f" stroke-width="0.55"><circle cx="198.40" cy="271.30" r="1.65"/><circle cx="194.40" cy="274.00" r="1.65"/><circle cx="198.40" cy="276.20" r="1.65"/><circle cx="194.40" cy="277.60" r="1.65"/><circle cx="196.70" cy="278.90" r="1.65"/><circle cx="198.90" cy="280.70" r="1.65"/><circle cx="194.40" cy="281.60" r="1.65"/><circle cx="196.70" cy="282.90" r="1.65"/><circle cx="194.40" cy="283.80" r="1.65"/><circle cx="196.70" cy="284.70" r="1.65"/><circle cx="198.80" cy="283.50" r="1.65"/></g>
<g fill="#194a80" stroke="#0a2242" stroke-width="0.55"><circle cx="208.70" cy="249.60" r="1.65"/><circle cx="206.40" cy="261.60" r="1.65"/><circle cx="210.90" cy="263.30" r="1.65"/><circle cx="206.40" cy="270.00" r="1.65"/><circle cx="209.10" cy="271.80" r="1.65"/><circle cx="210.90" cy="274.00" r="1.65"/><circle cx="206.40" cy="276.20" r="1.65"/><circle cx="209.10" cy="277.10" r="1.65"/><circle cx="210.90" cy="276.50" r="1.65"/><circle cx="208.70" cy="282.40" r="1.65"/></g>
<line x1="205.10" y1="270.90" x2="212.30" y2="270.90" stroke="#1b3c60" stroke-width="0.8" />
<line x1="208.70" y1="267.30" x2="208.70" y2="274.50" stroke="#1b3c60" stroke-width="0.6" />
<line x1="207.50" y1="267.30" x2="209.90" y2="267.30" stroke="#1b3c60" stroke-width="0.6" />
<line x1="207.50" y1="274.50" x2="209.90" y2="274.50" stroke="#1b3c60" stroke-width="0.6" />
<line x1="114.00" y1="247.80" x2="125.60" y2="247.80" stroke="#666" stroke-width="0.7" />
<line x1="114.00" y1="247.80" x2="114.00" y2="248.60" stroke="#666" stroke-width="0.6" />
<line x1="125.60" y1="247.80" x2="125.60" y2="248.60" stroke="#666" stroke-width="0.6" />
<text x="119.80" y="247.30" font-size="6.0" fill="#333" text-anchor="middle" >***</text>
<line x1="141.40" y1="273.40" x2="153.40" y2="273.40" stroke="#666" stroke-width="0.7" />
<line x1="141.40" y1="273.40" x2="141.40" y2="274.20" stroke="#666" stroke-width="0.6" />
<line x1="153.40" y1="273.40" x2="153.40" y2="274.20" stroke="#666" stroke-width="0.6" />
<text x="147.40" y="272.90" font-size="6.0" fill="#333" text-anchor="middle" >*</text>
<line x1="168.40" y1="271.40" x2="179.70" y2="271.40" stroke="#666" stroke-width="0.7" />
<line x1="168.40" y1="271.40" x2="168.40" y2="272.20" stroke="#666" stroke-width="0.6" />
<line x1="179.70" y1="271.40" x2="179.70" y2="272.20" stroke="#666" stroke-width="0.6" />
<text x="174.05" y="270.90" font-size="6.0" fill="#333" text-anchor="middle" >*</text>
<line x1="196.20" y1="243.80" x2="207.80" y2="243.80" stroke="#666" stroke-width="0.7" />
<line x1="196.20" y1="243.80" x2="196.20" y2="244.60" stroke="#666" stroke-width="0.6" />
<line x1="207.80" y1="243.80" x2="207.80" y2="244.60" stroke="#666" stroke-width="0.6" />
<text x="202.00" y="243.30" font-size="6.0" fill="#333" text-anchor="middle" >**</text>
<line x1="112.30" y1="314.30" x2="124.90" y2="314.30" stroke="#606060" stroke-width="0.85" />
<line x1="140.30" y1="314.30" x2="152.90" y2="314.30" stroke="#606060" stroke-width="0.85" />
<line x1="167.80" y1="314.30" x2="180.40" y2="314.30" stroke="#606060" stroke-width="0.85" />
<line x1="194.80" y1="314.30" x2="207.40" y2="314.30" stroke="#606060" stroke-width="0.85" />
<text x="119.20" y="322.80" font-size="6.85" fill="#3c3c3c" text-anchor="middle" textLength="13.45" lengthAdjust="spacingAndGlyphs" style="stroke-width:0.1px">HSC</text>
<text x="146.10" y="322.80" font-size="6.85" fill="#3c3c3c" text-anchor="middle" textLength="18.52" lengthAdjust="spacingAndGlyphs" style="stroke-width:0.1px">CD48<tspan font-size="4.11" dy="-2.6">−</tspan></text>
<text x="146.10" y="330.70" font-size="6.85" fill="#3c3c3c" text-anchor="middle" textLength="22.06" lengthAdjust="spacingAndGlyphs" style="stroke-width:0.1px">CD150<tspan font-size="4.11" dy="-2.6">−</tspan></text>
<text x="173.10" y="322.80" font-size="6.85" fill="#3c3c3c" text-anchor="middle" textLength="18.52" lengthAdjust="spacingAndGlyphs" style="stroke-width:0.1px">CD48<tspan font-size="4.11" dy="-2.6">+</tspan></text>
<text x="173.10" y="330.70" font-size="6.85" fill="#3c3c3c" text-anchor="middle" textLength="22.06" lengthAdjust="spacingAndGlyphs" style="stroke-width:0.1px">CD150<tspan font-size="4.11" dy="-2.6">+</tspan></text>
<text x="201.60" y="322.80" font-size="6.85" fill="#3c3c3c" text-anchor="middle" textLength="13.8" lengthAdjust="spacingAndGlyphs" style="stroke-width:0.1px">MPP</text>
<line x1="277.80" y1="243.30" x2="277.80" y2="310.20" stroke="#1e1e1e" stroke-width="1.1" />
<line x1="274.60" y1="309.70" x2="399.50" y2="309.70" stroke="#1e1e1e" stroke-width="1.1" />
<text x="271.40" y="311.90" font-size="6.2" fill="#3c3c3c" text-anchor="end" >0</text>
<line x1="274.60" y1="296.96" x2="277.80" y2="296.96" stroke="#1e1e1e" stroke-width="0.9" />
<text x="271.40" y="299.16" font-size="6.2" fill="#3c3c3c" text-anchor="end" >10</text>
<line x1="274.60" y1="284.22" x2="277.80" y2="284.22" stroke="#1e1e1e" stroke-width="0.9" />
<text x="271.40" y="286.42" font-size="6.2" fill="#3c3c3c" text-anchor="end" >20</text>
<line x1="274.60" y1="271.48" x2="277.80" y2="271.48" stroke="#1e1e1e" stroke-width="0.9" />
<text x="271.40" y="273.68" font-size="6.2" fill="#3c3c3c" text-anchor="end" >30</text>
<line x1="274.60" y1="258.74" x2="277.80" y2="258.74" stroke="#1e1e1e" stroke-width="0.9" />
<text x="271.40" y="260.94" font-size="6.2" fill="#3c3c3c" text-anchor="end" >40</text>
<line x1="274.60" y1="246.00" x2="277.80" y2="246.00" stroke="#1e1e1e" stroke-width="0.9" />
<text x="271.40" y="248.20" font-size="6.2" fill="#3c3c3c" text-anchor="end" >50</text>
<text x="0" y="0" font-size="7.1" fill="#3c3c3c" style="stroke-width:0.28px" text-anchor="middle" transform="translate(247.10,276.30) rotate(-90)" textLength="56" lengthAdjust="spacingAndGlyphs">% Progenitor subsets</text>
<text x="0" y="0" font-size="7.1" fill="#3c3c3c" style="stroke-width:0.28px" text-anchor="middle" transform="translate(258.65,276.25) rotate(-90)" textLength="28" lengthAdjust="spacingAndGlyphs">within LSK</text>
<g fill="#7c1429" stroke="#32060f" stroke-width="0.55"><circle cx="281.60" cy="300.00" r="1.65"/><circle cx="284.80" cy="299.60" r="1.65"/><circle cx="286.90" cy="300.80" r="1.65"/><circle cx="281.20" cy="302.00" r="1.65"/><circle cx="284.00" cy="302.00" r="1.65"/><circle cx="286.90" cy="302.40" r="1.65"/><circle cx="282.40" cy="304.00" r="1.65"/><circle cx="285.30" cy="304.00" r="1.65"/><circle cx="283.50" cy="301.00" r="1.65"/></g>
<g fill="#194a80" stroke="#0a2242" stroke-width="0.55"><circle cx="298.20" cy="302.00" r="1.65"/><circle cx="295.80" cy="303.20" r="1.65"/><circle cx="293.30" cy="304.40" r="1.65"/><circle cx="298.60" cy="304.40" r="1.65"/><circle cx="294.90" cy="306.00" r="1.65"/><circle cx="297.40" cy="306.00" r="1.65"/></g>
<g fill="#7c1429" stroke="#32060f" stroke-width="0.55"><circle cx="310.30" cy="277.30" r="1.65"/><circle cx="305.80" cy="279.00" r="1.65"/><circle cx="308.70" cy="280.20" r="1.65"/><circle cx="305.80" cy="282.20" r="1.65"/><circle cx="310.70" cy="283.40" r="1.65"/><circle cx="307.50" cy="284.20" r="1.65"/><circle cx="305.80" cy="285.80" r="1.65"/><circle cx="309.90" cy="285.80" r="1.65"/><circle cx="307.90" cy="287.00" r="1.65"/></g>
<g fill="#194a80" stroke="#0a2242" stroke-width="0.55"><circle cx="322.40" cy="284.70" r="1.65"/><circle cx="318.70" cy="286.20" r="1.65"/><circle cx="317.60" cy="288.00" r="1.65"/><circle cx="322.80" cy="288.20" r="1.65"/><circle cx="321.70" cy="290.60" r="1.65"/><circle cx="320.20" cy="292.90" r="1.65"/><circle cx="322.60" cy="292.00" r="1.65"/></g>
<line x1="316.50" y1="288.40" x2="324.30" y2="288.40" stroke="#1b3c60" stroke-width="0.8" />
<g fill="#7c1429" stroke="#32060f" stroke-width="0.55"><circle cx="334.60" cy="289.10" r="1.65"/><circle cx="330.90" cy="291.40" r="1.65"/><circle cx="329.80" cy="293.60" r="1.65"/><circle cx="333.50" cy="293.60" r="1.65"/><circle cx="331.70" cy="295.50" r="1.65"/><circle cx="335.00" cy="295.10" r="1.65"/><circle cx="330.60" cy="297.30" r="1.65"/><circle cx="332.80" cy="298.10" r="1.65"/><circle cx="332.00" cy="299.50" r="1.65"/></g>
<g fill="#194a80" stroke="#0a2242" stroke-width="0.55"><circle cx="344.70" cy="274.70" r="1.65"/><circle cx="344.70" cy="283.20" r="1.65"/><circle cx="342.10" cy="285.80" r="1.65"/><circle cx="346.90" cy="286.20" r="1.65"/><circle cx="343.20" cy="288.80" r="1.65"/><circle cx="346.50" cy="289.10" r="1.65"/><circle cx="343.20" cy="290.60" r="1.65"/></g>
<line x1="340.60" y1="287.70" x2="348.40" y2="287.70" stroke="#1b3c60" stroke-width="0.8" />
<g fill="#7c1429" stroke="#32060f" stroke-width="0.55"><circle cx="354.40" cy="265.90" r="1.65"/><circle cx="357.80" cy="268.40" r="1.65"/><circle cx="354.40" cy="269.80" r="1.65"/><circle cx="359.30" cy="269.80" r="1.65"/><circle cx="356.40" cy="271.30" r="1.65"/><circle cx="354.40" cy="273.30" r="1.65"/><circle cx="358.80" cy="273.30" r="1.65"/><circle cx="355.90" cy="275.20" r="1.65"/><circle cx="357.80" cy="275.20" r="1.65"/></g>
<g fill="#194a80" stroke="#0a2242" stroke-width="0.55"><circle cx="369.10" cy="254.50" r="1.65"/><circle cx="367.10" cy="260.50" r="1.65"/><circle cx="371.50" cy="260.10" r="1.65"/><circle cx="369.10" cy="262.50" r="1.65"/><circle cx="369.80" cy="261.00" r="1.65"/><circle cx="369.10" cy="269.40" r="1.65"/></g>
<g fill="#7c1429" stroke="#32060f" stroke-width="0.55"><circle cx="381.30" cy="288.90" r="1.65"/><circle cx="378.90" cy="293.30" r="1.65"/><circle cx="383.30" cy="295.30" r="1.65"/><circle cx="379.40" cy="296.80" r="1.65"/><circle cx="382.30" cy="298.20" r="1.65"/><circle cx="379.40" cy="300.20" r="1.65"/><circle cx="382.30" cy="301.60" r="1.65"/><circle cx="380.30" cy="302.60" r="1.65"/></g>
<g fill="#194a80" stroke="#0a2242" stroke-width="0.55"><circle cx="391.60" cy="296.30" r="1.65"/><circle cx="395.50" cy="295.80" r="1.65"/><circle cx="393.10" cy="298.20" r="1.65"/><circle cx="396.00" cy="299.20" r="1.65"/><circle cx="391.60" cy="300.20" r="1.65"/><circle cx="394.00" cy="301.60" r="1.65"/></g>
<line x1="283.20" y1="293.10" x2="295.30" y2="293.10" stroke="#666" stroke-width="0.7" />
<line x1="283.20" y1="293.10" x2="283.20" y2="293.90" stroke="#666" stroke-width="0.6" />
<line x1="295.30" y1="293.10" x2="295.30" y2="293.90" stroke="#666" stroke-width="0.6" />
<text x="289.25" y="292.60" font-size="6.0" fill="#333" text-anchor="middle" >**</text>
<line x1="307.90" y1="271.30" x2="319.60" y2="271.30" stroke="#666" stroke-width="0.7" />
<line x1="307.90" y1="271.30" x2="307.90" y2="272.10" stroke="#666" stroke-width="0.6" />
<line x1="319.60" y1="271.30" x2="319.60" y2="272.10" stroke="#666" stroke-width="0.6" />
<text x="313.75" y="270.80" font-size="6.0" fill="#333" text-anchor="middle" >**</text>
<line x1="332.40" y1="267.20" x2="344.70" y2="267.20" stroke="#666" stroke-width="0.7" />
<line x1="332.40" y1="267.20" x2="332.40" y2="268.00" stroke="#666" stroke-width="0.6" />
<line x1="344.70" y1="267.20" x2="344.70" y2="268.00" stroke="#666" stroke-width="0.6" />
<text x="338.55" y="266.70" font-size="6.0" fill="#333" text-anchor="middle" >***</text>
<line x1="356.80" y1="249.30" x2="368.60" y2="249.30" stroke="#666" stroke-width="0.7" />
<line x1="356.80" y1="249.30" x2="356.80" y2="250.10" stroke="#666" stroke-width="0.6" />
<line x1="368.60" y1="249.30" x2="368.60" y2="250.10" stroke="#666" stroke-width="0.6" />
<text x="362.70" y="248.80" font-size="6.0" fill="#333" text-anchor="middle" >***</text>
<line x1="283.20" y1="314.30" x2="295.80" y2="314.30" stroke="#606060" stroke-width="0.85" />
<text x="289.50" y="322.80" font-size="6.85" fill="#3c3c3c" text-anchor="middle" textLength="13.45" lengthAdjust="spacingAndGlyphs" style="stroke-width:0.1px">HSC</text>
<line x1="307.60" y1="314.30" x2="320.20" y2="314.30" stroke="#606060" stroke-width="0.85" />
<text x="313.90" y="322.80" font-size="6.85" fill="#3c3c3c" text-anchor="middle" textLength="17.35" lengthAdjust="spacingAndGlyphs" style="stroke-width:0.1px">MPP1</text>
<line x1="332.10" y1="314.30" x2="344.70" y2="314.30" stroke="#606060" stroke-width="0.85" />
<text x="338.40" y="322.80" font-size="6.85" fill="#3c3c3c" text-anchor="middle" textLength="17.35" lengthAdjust="spacingAndGlyphs" style="stroke-width:0.1px">MPP2</text>
<line x1="356.40" y1="314.30" x2="369.00" y2="314.30" stroke="#606060" stroke-width="0.85" />
<text x="362.70" y="322.80" font-size="6.85" fill="#3c3c3c" text-anchor="middle" textLength="17.35" lengthAdjust="spacingAndGlyphs" style="stroke-width:0.1px">MPP3</text>
<line x1="380.80" y1="314.30" x2="393.40" y2="314.30" stroke="#606060" stroke-width="0.85" />
<text x="387.10" y="322.80" font-size="6.85" fill="#3c3c3c" text-anchor="middle" textLength="17.35" lengthAdjust="spacingAndGlyphs" style="stroke-width:0.1px">MPP4</text>
<circle cx="408.30" cy="249.70" r="2.6" fill="#8b1a2b"/>
<circle cx="408.30" cy="260.50" r="2.6" fill="#1f4e80"/>
<text x="414.10" y="252.10" font-size="6.1" fill="#3c3c3c" font-style="italic" textLength="14.5" lengthAdjust="spacingAndGlyphs" style="stroke-width:0.2px">Nfat5</text>
<text x="429.00" y="249.80" font-size="4.5" fill="#3c3c3c" textLength="6.6" lengthAdjust="spacingAndGlyphs" style="stroke-width:0.14px">+/+</text>
<text x="438.40" y="252.10" font-size="6.1" fill="#3c3c3c" textLength="22.80" lengthAdjust="spacingAndGlyphs" style="stroke-width:0.2px">Vav-Cre</text>
<text x="414.10" y="262.90" font-size="6.1" fill="#3c3c3c" font-style="italic" textLength="14.5" lengthAdjust="spacingAndGlyphs" style="stroke-width:0.2px">Nfat5</text>
<text x="429.00" y="260.60" font-size="4.5" fill="#3c3c3c" textLength="5.4" lengthAdjust="spacingAndGlyphs" style="stroke-width:0.14px">fl/fl</text>
<text x="437.30" y="262.90" font-size="6.1" fill="#3c3c3c" textLength="21.90" lengthAdjust="spacingAndGlyphs" style="stroke-width:0.2px">Vav-Cre</text>
<line x1="105.30" y1="348.90" x2="105.30" y2="415.80" stroke="#1e1e1e" stroke-width="1.1" />
<line x1="102.10" y1="415.30" x2="218.80" y2="415.30" stroke="#1e1e1e" stroke-width="1.1" />
<text x="98.90" y="417.50" font-size="6.2" fill="#3c3c3c" text-anchor="end" >0</text>
<line x1="102.10" y1="399.38" x2="105.30" y2="399.38" stroke="#1e1e1e" stroke-width="0.9" />
<text x="98.90" y="401.57" font-size="6.2" fill="#3c3c3c" text-anchor="end" >10</text>
<line x1="102.10" y1="383.45" x2="105.30" y2="383.45" stroke="#1e1e1e" stroke-width="0.9" />
<text x="98.90" y="385.65" font-size="6.2" fill="#3c3c3c" text-anchor="end" >20</text>
<line x1="102.10" y1="367.53" x2="105.30" y2="367.53" stroke="#1e1e1e" stroke-width="0.9" />
<text x="98.90" y="369.73" font-size="6.2" fill="#3c3c3c" text-anchor="end" >30</text>
<line x1="102.10" y1="351.60" x2="105.30" y2="351.60" stroke="#1e1e1e" stroke-width="0.9" />
<text x="98.90" y="353.80" font-size="6.2" fill="#3c3c3c" text-anchor="end" >40</text>
<text x="0" y="0" font-size="7.1" fill="#3c3c3c" style="stroke-width:0.28px" text-anchor="middle" transform="translate(74.60,381.80) rotate(-90)" textLength="57.8" lengthAdjust="spacingAndGlyphs">Progenitor subset cell</text>
<text x="0" y="0" font-size="7.1" fill="#3c3c3c" style="stroke-width:0.28px" text-anchor="middle" transform="translate(86.30,381.80) rotate(-90)" textLength="58.8" lengthAdjust="spacingAndGlyphs">number (×10<tspan font-size="4.4" dy="-2.2">3</tspan><tspan dy="2.2">)/mouse</tspan></text>
<g fill="#7c1429" stroke="#32060f" stroke-width="0.55"><circle cx="112.60" cy="371.60" r="1.65"/><circle cx="116.40" cy="370.50" r="1.65"/><circle cx="114.50" cy="374.30" r="1.65"/><circle cx="112.20" cy="382.40" r="1.65"/><circle cx="116.40" cy="380.50" r="1.65"/><circle cx="114.50" cy="386.70" r="1.65"/><circle cx="112.60" cy="391.30" r="1.65"/><circle cx="116.40" cy="391.30" r="1.65"/><circle cx="114.50" cy="392.50" r="1.65"/><circle cx="112.60" cy="397.50" r="1.65"/><circle cx="116.40" cy="397.90" r="1.65"/><circle cx="112.20" cy="401.70" r="1.65"/><circle cx="115.30" cy="401.70" r="1.65"/><circle cx="113.70" cy="403.70" r="1.65"/><circle cx="116.40" cy="400.00" r="1.65"/></g>
<line x1="110.60" y1="390.90" x2="118.40" y2="390.90" stroke="#3a1a1a" stroke-width="0.8" />
<g fill="#194a80" stroke="#0a2242" stroke-width="0.55"><circle cx="126.40" cy="370.10" r="1.65"/><circle cx="128.40" cy="381.70" r="1.65"/><circle cx="124.50" cy="385.10" r="1.65"/><circle cx="126.80" cy="385.90" r="1.65"/><circle cx="126.40" cy="389.40" r="1.65"/><circle cx="124.50" cy="392.90" r="1.65"/><circle cx="128.40" cy="394.40" r="1.65"/><circle cx="124.50" cy="399.00" r="1.65"/><circle cx="128.40" cy="398.70" r="1.65"/></g>
<line x1="122.60" y1="388.60" x2="130.60" y2="388.60" stroke="#1b3c60" stroke-width="0.8" />
<g fill="#7c1429" stroke="#32060f" stroke-width="0.55"><circle cx="139.80" cy="398.00" r="1.65"/><circle cx="143.90" cy="399.00" r="1.65"/><circle cx="146.30" cy="398.00" r="1.65"/><circle cx="139.80" cy="402.40" r="1.65"/><circle cx="139.50" cy="406.20" r="1.65"/><circle cx="144.20" cy="405.50" r="1.65"/><circle cx="141.50" cy="408.30" r="1.65"/><circle cx="139.50" cy="410.30" r="1.65"/><circle cx="143.60" cy="410.30" r="1.65"/><circle cx="141.50" cy="412.40" r="1.65"/><circle cx="141.80" cy="404.00" r="1.65"/></g>
<g fill="#194a80" stroke="#0a2242" stroke-width="0.55"><circle cx="153.80" cy="402.80" r="1.65"/><circle cx="151.40" cy="406.20" r="1.65"/><circle cx="156.50" cy="405.90" r="1.65"/><circle cx="153.80" cy="408.30" r="1.65"/><circle cx="151.40" cy="409.60" r="1.65"/><circle cx="156.50" cy="409.60" r="1.65"/><circle cx="153.80" cy="411.70" r="1.65"/></g>
<g fill="#7c1429" stroke="#32060f" stroke-width="0.55"><circle cx="169.20" cy="398.30" r="1.65"/><circle cx="167.10" cy="403.80" r="1.65"/><circle cx="171.60" cy="403.10" r="1.65"/><circle cx="168.80" cy="405.90" r="1.65"/><circle cx="167.10" cy="407.90" r="1.65"/><circle cx="171.60" cy="407.20" r="1.65"/><circle cx="168.80" cy="409.60" r="1.65"/><circle cx="167.10" cy="411.70" r="1.65"/><circle cx="171.60" cy="412.00" r="1.65"/><circle cx="168.80" cy="413.70" r="1.65"/></g>
<g fill="#194a80" stroke="#0a2242" stroke-width="0.55"><circle cx="179.40" cy="390.50" r="1.65"/><circle cx="183.90" cy="395.60" r="1.65"/><circle cx="185.60" cy="394.90" r="1.65"/><circle cx="177.40" cy="399.40" r="1.65"/><circle cx="179.40" cy="401.40" r="1.65"/><circle cx="181.50" cy="402.10" r="1.65"/><circle cx="183.20" cy="403.50" r="1.65"/><circle cx="182.20" cy="404.80" r="1.65"/><circle cx="179.40" cy="411.00" r="1.65"/><circle cx="183.20" cy="411.30" r="1.65"/></g>
<line x1="177.70" y1="400.50" x2="185.30" y2="400.50" stroke="#1b3c60" stroke-width="0.8" />
<line x1="181.50" y1="397.50" x2="181.50" y2="403.50" stroke="#1b3c60" stroke-width="0.6" />
<line x1="180.30" y1="397.50" x2="182.70" y2="397.50" stroke="#1b3c60" stroke-width="0.6" />
<line x1="180.30" y1="403.50" x2="182.70" y2="403.50" stroke="#1b3c60" stroke-width="0.6" />
<g fill="#7c1429" stroke="#32060f" stroke-width="0.55"><circle cx="198.60" cy="385.30" r="1.65"/><circle cx="194.50" cy="387.20" r="1.65"/><circle cx="196.80" cy="389.40" r="1.65"/><circle cx="194.50" cy="393.90" r="1.65"/><circle cx="198.60" cy="394.40" r="1.65"/><circle cx="196.30" cy="396.20" r="1.65"/><circle cx="194.50" cy="401.20" r="1.65"/><circle cx="198.60" cy="401.20" r="1.65"/><circle cx="196.50" cy="403.00" r="1.65"/><circle cx="194.50" cy="404.80" r="1.65"/><circle cx="198.60" cy="405.30" r="1.65"/><circle cx="196.30" cy="407.50" r="1.65"/></g>
<line x1="192.40" y1="399.40" x2="200.40" y2="399.40" stroke="#3a1a1a" stroke-width="0.8" />
<g fill="#194a80" stroke="#0a2242" stroke-width="0.55"><circle cx="208.60" cy="373.60" r="1.65"/><circle cx="206.30" cy="386.70" r="1.65"/><circle cx="211.30" cy="386.30" r="1.65"/><circle cx="209.00" cy="389.40" r="1.65"/><circle cx="206.30" cy="392.10" r="1.65"/><circle cx="211.30" cy="392.10" r="1.65"/><circle cx="208.10" cy="394.00" r="1.65"/><circle cx="206.80" cy="397.60" r="1.65"/><circle cx="210.80" cy="398.50" r="1.65"/><circle cx="208.60" cy="401.20" r="1.65"/></g>
<line x1="205.00" y1="392.50" x2="212.60" y2="392.50" stroke="#1b3c60" stroke-width="0.8" />
<line x1="169.20" y1="382.80" x2="180.80" y2="382.80" stroke="#666" stroke-width="0.7" />
<line x1="169.20" y1="382.80" x2="169.20" y2="383.60" stroke="#666" stroke-width="0.6" />
<line x1="180.80" y1="382.80" x2="180.80" y2="383.60" stroke="#666" stroke-width="0.6" />
<text x="175.00" y="382.30" font-size="6.0" fill="#333" text-anchor="middle" >*</text>
<line x1="195.90" y1="364.80" x2="207.70" y2="364.80" stroke="#666" stroke-width="0.7" />
<line x1="195.90" y1="364.80" x2="195.90" y2="365.60" stroke="#666" stroke-width="0.6" />
<line x1="207.70" y1="364.80" x2="207.70" y2="365.60" stroke="#666" stroke-width="0.6" />
<text x="201.80" y="364.30" font-size="6.0" fill="#333" text-anchor="middle" >*</text>
<line x1="112.60" y1="419.90" x2="125.20" y2="419.90" stroke="#606060" stroke-width="0.85" />
<line x1="140.10" y1="419.90" x2="152.70" y2="419.90" stroke="#606060" stroke-width="0.85" />
<line x1="167.80" y1="419.90" x2="180.40" y2="419.90" stroke="#606060" stroke-width="0.85" />
<line x1="194.80" y1="419.90" x2="207.40" y2="419.90" stroke="#606060" stroke-width="0.85" />
<text x="119.80" y="428.60" font-size="6.85" fill="#3c3c3c" text-anchor="middle" textLength="13.45" lengthAdjust="spacingAndGlyphs" style="stroke-width:0.1px">HSC</text>
<text x="146.10" y="428.60" font-size="6.85" fill="#3c3c3c" text-anchor="middle" textLength="18.52" lengthAdjust="spacingAndGlyphs" style="stroke-width:0.1px">CD48<tspan font-size="4.11" dy="-2.6">−</tspan></text>
<text x="146.10" y="436.50" font-size="6.85" fill="#3c3c3c" text-anchor="middle" textLength="22.06" lengthAdjust="spacingAndGlyphs" style="stroke-width:0.1px">CD150<tspan font-size="4.11" dy="-2.6">−</tspan></text>
<text x="173.60" y="428.60" font-size="6.85" fill="#3c3c3c" text-anchor="middle" textLength="18.52" lengthAdjust="spacingAndGlyphs" style="stroke-width:0.1px">CD48<tspan font-size="4.11" dy="-2.6">+</tspan></text>
<text x="173.60" y="436.50" font-size="6.85" fill="#3c3c3c" text-anchor="middle" textLength="22.06" lengthAdjust="spacingAndGlyphs" style="stroke-width:0.1px">CD150<tspan font-size="4.11" dy="-2.6">+</tspan></text>
<text x="201.60" y="428.60" font-size="6.85" fill="#3c3c3c" text-anchor="middle" textLength="13.8" lengthAdjust="spacingAndGlyphs" style="stroke-width:0.1px">MPP</text>
<line x1="278.00" y1="348.90" x2="278.00" y2="415.80" stroke="#1e1e1e" stroke-width="1.1" />
<line x1="274.80" y1="415.30" x2="399.50" y2="415.30" stroke="#1e1e1e" stroke-width="1.1" />
<text x="271.60" y="417.50" font-size="6.2" fill="#3c3c3c" text-anchor="end" >0</text>
<line x1="274.80" y1="399.38" x2="278.00" y2="399.38" stroke="#1e1e1e" stroke-width="0.9" />
<text x="271.60" y="401.57" font-size="6.2" fill="#3c3c3c" text-anchor="end" >10</text>
<line x1="274.80" y1="383.45" x2="278.00" y2="383.45" stroke="#1e1e1e" stroke-width="0.9" />
<text x="271.60" y="385.65" font-size="6.2" fill="#3c3c3c" text-anchor="end" >20</text>
<line x1="274.80" y1="367.53" x2="278.00" y2="367.53" stroke="#1e1e1e" stroke-width="0.9" />
<text x="271.60" y="369.73" font-size="6.2" fill="#3c3c3c" text-anchor="end" >30</text>
<line x1="274.80" y1="351.60" x2="278.00" y2="351.60" stroke="#1e1e1e" stroke-width="0.9" />
<text x="271.60" y="353.80" font-size="6.2" fill="#3c3c3c" text-anchor="end" >40</text>
<text x="0" y="0" font-size="7.1" fill="#3c3c3c" style="stroke-width:0.28px" text-anchor="middle" transform="translate(246.90,381.80) rotate(-90)" textLength="57.8" lengthAdjust="spacingAndGlyphs">Progenitor subset cell</text>
<text x="0" y="0" font-size="7.1" fill="#3c3c3c" style="stroke-width:0.28px" text-anchor="middle" transform="translate(258.10,381.80) rotate(-90)" textLength="58.8" lengthAdjust="spacingAndGlyphs">number (×10<tspan font-size="4.4" dy="-2.2">3</tspan><tspan dy="2.2">)/mouse</tspan></text>
<g fill="#7c1429" stroke="#32060f" stroke-width="0.55"><circle cx="286.10" cy="405.40" r="1.65"/><circle cx="282.40" cy="406.70" r="1.65"/><circle cx="284.80" cy="407.90" r="1.65"/><circle cx="286.90" cy="409.90" r="1.65"/><circle cx="281.60" cy="409.50" r="1.65"/><circle cx="283.60" cy="411.10" r="1.65"/><circle cx="285.70" cy="411.90" r="1.65"/><circle cx="283.50" cy="404.50" r="1.65"/></g>
<g fill="#194a80" stroke="#0a2242" stroke-width="0.55"><circle cx="294.10" cy="409.90" r="1.65"/><circle cx="297.80" cy="409.90" r="1.65"/><circle cx="295.80" cy="411.50" r="1.65"/><circle cx="293.50" cy="411.20" r="1.65"/><circle cx="298.20" cy="411.20" r="1.65"/></g>
<g fill="#7c1429" stroke="#32060f" stroke-width="0.55"><circle cx="310.30" cy="385.70" r="1.65"/><circle cx="305.80" cy="387.70" r="1.65"/><circle cx="308.30" cy="389.70" r="1.65"/><circle cx="310.30" cy="392.50" r="1.65"/><circle cx="305.80" cy="394.10" r="1.65"/><circle cx="308.30" cy="395.80" r="1.65"/><circle cx="310.30" cy="397.40" r="1.65"/><circle cx="305.80" cy="399.40" r="1.65"/><circle cx="308.30" cy="401.00" r="1.65"/><circle cx="310.30" cy="404.60" r="1.65"/><circle cx="305.80" cy="407.90" r="1.65"/></g>
<g fill="#194a80" stroke="#0a2242" stroke-width="0.55"><circle cx="320.30" cy="386.60" r="1.65"/><circle cx="322.40" cy="394.20" r="1.65"/><circle cx="318.20" cy="396.00" r="1.65"/><circle cx="320.70" cy="397.00" r="1.65"/><circle cx="322.40" cy="401.50" r="1.65"/><circle cx="318.20" cy="403.60" r="1.65"/></g>
<line x1="316.60" y1="396.30" x2="324.20" y2="396.30" stroke="#1b3c60" stroke-width="0.8" />
<g fill="#7c1429" stroke="#32060f" stroke-width="0.55"><circle cx="332.40" cy="395.30" r="1.65"/><circle cx="334.50" cy="399.10" r="1.65"/><circle cx="330.40" cy="401.20" r="1.65"/><circle cx="332.80" cy="404.60" r="1.65"/><circle cx="329.70" cy="405.30" r="1.65"/><circle cx="335.20" cy="405.30" r="1.65"/><circle cx="332.10" cy="407.40" r="1.65"/><circle cx="334.20" cy="409.80" r="1.65"/><circle cx="331.40" cy="411.60" r="1.65"/></g>
<g fill="#194a80" stroke="#0a2242" stroke-width="0.55"><circle cx="344.50" cy="384.50" r="1.65"/><circle cx="342.50" cy="391.10" r="1.65"/><circle cx="345.90" cy="392.50" r="1.65"/><circle cx="343.20" cy="397.70" r="1.65"/><circle cx="345.90" cy="398.50" r="1.65"/><circle cx="344.50" cy="401.20" r="1.65"/></g>
<line x1="340.60" y1="394.60" x2="348.20" y2="394.60" stroke="#1b3c60" stroke-width="0.8" />
<line x1="344.40" y1="391.60" x2="344.40" y2="397.60" stroke="#1b3c60" stroke-width="0.6" />
<line x1="343.20" y1="391.60" x2="345.60" y2="391.60" stroke="#1b3c60" stroke-width="0.6" />
<line x1="343.20" y1="397.60" x2="345.60" y2="397.60" stroke="#1b3c60" stroke-width="0.6" />
<g fill="#7c1429" stroke="#32060f" stroke-width="0.55"><circle cx="354.50" cy="374.00" r="1.65"/><circle cx="358.00" cy="378.00" r="1.65"/><circle cx="356.30" cy="378.50" r="1.65"/><circle cx="354.50" cy="381.50" r="1.65"/><circle cx="359.00" cy="384.00" r="1.65"/><circle cx="357.00" cy="385.50" r="1.65"/><circle cx="359.00" cy="389.00" r="1.65"/><circle cx="354.50" cy="392.00" r="1.65"/><circle cx="356.50" cy="397.50" r="1.65"/><circle cx="359.00" cy="401.50" r="1.65"/><circle cx="354.50" cy="404.50" r="1.65"/></g>
<line x1="353.00" y1="388.00" x2="360.20" y2="388.00" stroke="#3a1a1a" stroke-width="0.8" />
<line x1="356.60" y1="384.80" x2="356.60" y2="391.20" stroke="#3a1a1a" stroke-width="0.6" />
<line x1="355.40" y1="384.80" x2="357.80" y2="384.80" stroke="#3a1a1a" stroke-width="0.6" />
<line x1="355.40" y1="391.20" x2="357.80" y2="391.20" stroke="#3a1a1a" stroke-width="0.6" />
<g fill="#194a80" stroke="#0a2242" stroke-width="0.55"><circle cx="368.50" cy="360.80" r="1.65"/><circle cx="366.50" cy="373.50" r="1.65"/><circle cx="371.00" cy="374.50" r="1.65"/><circle cx="367.50" cy="377.00" r="1.65"/><circle cx="371.00" cy="379.50" r="1.65"/><circle cx="368.50" cy="382.00" r="1.65"/></g>
<g fill="#7c1429" stroke="#32060f" stroke-width="0.55"><circle cx="383.00" cy="398.00" r="1.65"/><circle cx="379.00" cy="401.50" r="1.65"/><circle cx="383.00" cy="403.00" r="1.65"/><circle cx="380.00" cy="405.00" r="1.65"/><circle cx="383.00" cy="407.00" r="1.65"/><circle cx="379.00" cy="410.00" r="1.65"/><circle cx="382.00" cy="410.50" r="1.65"/><circle cx="380.50" cy="411.00" r="1.65"/></g>
<g fill="#194a80" stroke="#0a2242" stroke-width="0.55"><circle cx="391.00" cy="400.50" r="1.65"/><circle cx="395.00" cy="404.50" r="1.65"/><circle cx="392.00" cy="406.00" r="1.65"/><circle cx="390.00" cy="407.50" r="1.65"/><circle cx="394.50" cy="407.50" r="1.65"/><circle cx="392.00" cy="409.00" r="1.65"/></g>
<line x1="331.70" y1="377.30" x2="343.20" y2="377.30" stroke="#666" stroke-width="0.7" />
<line x1="331.70" y1="377.30" x2="331.70" y2="378.10" stroke="#666" stroke-width="0.6" />
<line x1="343.20" y1="377.30" x2="343.20" y2="378.10" stroke="#666" stroke-width="0.6" />
<text x="337.45" y="376.80" font-size="6.0" fill="#333" text-anchor="middle" >**</text>
<line x1="356.00" y1="354.50" x2="367.50" y2="354.50" stroke="#666" stroke-width="0.7" />
<line x1="356.00" y1="354.50" x2="356.00" y2="355.30" stroke="#666" stroke-width="0.6" />
<line x1="367.50" y1="354.50" x2="367.50" y2="355.30" stroke="#666" stroke-width="0.6" />
<text x="361.75" y="354.00" font-size="6.0" fill="#333" text-anchor="middle" >*</text>
<line x1="283.20" y1="419.90" x2="295.80" y2="419.90" stroke="#606060" stroke-width="0.85" />
<text x="289.50" y="428.60" font-size="6.85" fill="#3c3c3c" text-anchor="middle" textLength="13.45" lengthAdjust="spacingAndGlyphs" style="stroke-width:0.1px">HSC</text>
<line x1="307.60" y1="419.90" x2="320.20" y2="419.90" stroke="#606060" stroke-width="0.85" />
<text x="313.90" y="428.60" font-size="6.85" fill="#3c3c3c" text-anchor="middle" textLength="17.35" lengthAdjust="spacingAndGlyphs" style="stroke-width:0.1px">MPP1</text>
<line x1="332.10" y1="419.90" x2="344.70" y2="419.90" stroke="#606060" stroke-width="0.85" />
<text x="338.40" y="428.60" font-size="6.85" fill="#3c3c3c" text-anchor="middle" textLength="17.35" lengthAdjust="spacingAndGlyphs" style="stroke-width:0.1px">MPP2</text>
<line x1="356.40" y1="419.90" x2="369.00" y2="419.90" stroke="#606060" stroke-width="0.85" />
<text x="362.70" y="428.60" font-size="6.85" fill="#3c3c3c" text-anchor="middle" textLength="17.35" lengthAdjust="spacingAndGlyphs" style="stroke-width:0.1px">MPP3</text>
<line x1="380.80" y1="419.90" x2="393.40" y2="419.90" stroke="#606060" stroke-width="0.85" />
<text x="387.10" y="428.60" font-size="6.85" fill="#3c3c3c" text-anchor="middle" textLength="17.35" lengthAdjust="spacingAndGlyphs" style="stroke-width:0.1px">MPP4</text>
<text x="30.60" y="466.00" font-size="6.6" fill="#3c3c3c" text-anchor="middle" textLength="22.4" lengthAdjust="spacingAndGlyphs" style="stroke-width:0.08px">Vav-Cre</text>
<line x1="16.00" y1="468.30" x2="42.90" y2="468.30" stroke="#222" stroke-width="0.9" />
<text x="18.3" y="476.50" font-size="6.0" fill="#3c3c3c" font-style="italic" textLength="15.8" lengthAdjust="spacingAndGlyphs">Nfat5</text>
<text x="34.6" y="473.40" font-size="4.3" fill="#3c3c3c" textLength="5.8" lengthAdjust="spacingAndGlyphs" style="stroke-width:0.12px">+/+</text>
<text x="20.2" y="482.40" font-size="6.0" fill="#3c3c3c" font-style="italic" textLength="15.6" lengthAdjust="spacingAndGlyphs">Nfat5</text>
<text x="36.0" y="479.30" font-size="4.3" fill="#3c3c3c" textLength="4.4" lengthAdjust="spacingAndGlyphs" style="stroke-width:0.12px">fl/fl</text>
<text x="81.00" y="467.40" font-size="6.6" fill="#3c3c3c" text-anchor="middle" textLength="13.9" lengthAdjust="spacingAndGlyphs" style="stroke-width:0.08px">5-FU</text>
<text x="80.90" y="475.40" font-size="6.6" fill="#3c3c3c" text-anchor="middle" textLength="36.2" lengthAdjust="spacingAndGlyphs" style="stroke-width:0.08px">(150 mg/kg)</text>
<text x="80.90" y="482.80" font-size="6.6" fill="#3c3c3c" text-anchor="middle" textLength="36.2" lengthAdjust="spacingAndGlyphs" style="stroke-width:0.08px">1 dose every</text>
<text x="81.00" y="490.40" font-size="6.6" fill="#3c3c3c" text-anchor="middle" textLength="22.5" lengthAdjust="spacingAndGlyphs" style="stroke-width:0.08px">10 days</text>
<path d="M0,4.2 C0.6,3.2 2,2.6 3.3,2.3 L4.0,1.0 C4.6,0.6 5.2,1.0 5.2,1.8 C7,0.3 10,-0.3 12.2,0.3 C15.5,1.2 17.6,4.2 18.1,7.2 C18.3,8.2 18.0,8.8 17.6,9.0 C19.6,9.6 23.2,10.2 26.7,11.1 L26.5,11.6 C23,11.2 19.5,10.6 17.2,10.3 L14.6,10.3 C13.5,10.3 12.6,10.0 11.8,9.6 L11.0,10.1 L9.8,10.1 L10.2,9.3 C8.6,9.0 7.3,8.7 6.6,8.6 L5.8,9.7 L4.5,9.7 L5.2,8.4 C3.5,7.6 1.6,6.0 0.4,5.3 C-0.1,5.0 -0.2,4.6 0,4.2 Z" fill="#1c1c1c" transform="translate(43.4,483.4)"/>
<line x1="53.60" y1="499.00" x2="53.60" y2="504.80" stroke="#1a1a1a" stroke-width="1.1" />
<polygon points="51.9,504.4 55.3,504.4 53.6,508.0" fill="#111"/>
<line x1="53.60" y1="510.00" x2="53.60" y2="515.60" stroke="#1a1a1a" stroke-width="1.1" />
<polygon points="51.9,515.2 55.3,515.2 53.6,518.8" fill="#111"/>
<line x1="53.60" y1="521.00" x2="53.60" y2="526.80" stroke="#1a1a1a" stroke-width="1.1" />
<polygon points="51.9,526.4 55.3,526.4 53.6,530.0" fill="#111"/>
<line x1="56.50" y1="499.20" x2="64.60" y2="499.20" stroke="#808080" stroke-width="0.75" />
<polygon points="64.2,498.75 65.8,497.50 65.8,500.90 64.2,499.65" fill="#4a5560"/>
<rect x="65.5" y="497.50" width="8.4" height="3.4" fill="#b9cbdc" stroke="#2e3640" stroke-width="0.5"/>
<rect x="67.00" y="498.70" width="5.20" height="0.90" fill="#f4f7fa" />
<rect x="73.9" y="497.85" width="1.9" height="2.7" fill="#e6e6e6" stroke="#333" stroke-width="0.4"/>
<rect x="75.80" y="496.80" width="1.90" height="4.80" fill="#1e1e1e" />
<rect x="77.7" y="497.85" width="3.0" height="2.7" fill="#efefef" stroke="#333" stroke-width="0.4"/>
<rect x="80.70" y="496.70" width="1.60" height="5.00" fill="#1e1e1e" />
<line x1="56.50" y1="509.80" x2="64.60" y2="509.80" stroke="#808080" stroke-width="0.75" />
<polygon points="64.2,509.35 65.8,508.10 65.8,511.50 64.2,510.25" fill="#4a5560"/>
<rect x="65.5" y="508.10" width="8.4" height="3.4" fill="#b9cbdc" stroke="#2e3640" stroke-width="0.5"/>
<rect x="67.00" y="509.30" width="5.20" height="0.90" fill="#f4f7fa" />
<rect x="73.9" y="508.45" width="1.9" height="2.7" fill="#e6e6e6" stroke="#333" stroke-width="0.4"/>
<rect x="75.80" y="507.40" width="1.90" height="4.80" fill="#1e1e1e" />
<rect x="77.7" y="508.45" width="3.0" height="2.7" fill="#efefef" stroke="#333" stroke-width="0.4"/>
<rect x="80.70" y="507.30" width="1.60" height="5.00" fill="#1e1e1e" />
<line x1="56.50" y1="520.90" x2="64.60" y2="520.90" stroke="#808080" stroke-width="0.75" />
<polygon points="64.2,520.45 65.8,519.20 65.8,522.60 64.2,521.35" fill="#4a5560"/>
<rect x="65.5" y="519.20" width="8.4" height="3.4" fill="#b9cbdc" stroke="#2e3640" stroke-width="0.5"/>
<rect x="67.00" y="520.40" width="5.20" height="0.90" fill="#f4f7fa" />
<rect x="73.9" y="519.55" width="1.9" height="2.7" fill="#e6e6e6" stroke="#333" stroke-width="0.4"/>
<rect x="75.80" y="518.50" width="1.90" height="4.80" fill="#1e1e1e" />
<rect x="77.7" y="519.55" width="3.0" height="2.7" fill="#efefef" stroke="#333" stroke-width="0.4"/>
<rect x="80.70" y="518.40" width="1.60" height="5.00" fill="#1e1e1e" />
<text x="54.50" y="539.00" font-size="6.6" fill="#3c3c3c" text-anchor="middle" textLength="61.5" lengthAdjust="spacingAndGlyphs" style="stroke-width:0.08px">Bone marrow analysis</text>
<text x="54.10" y="546.60" font-size="6.6" fill="#3c3c3c" text-anchor="middle" textLength="65.8" lengthAdjust="spacingAndGlyphs" style="stroke-width:0.08px">(day 10 after last dose)</text>
<line x1="152.30" y1="472.20" x2="152.30" y2="539.10" stroke="#1e1e1e" stroke-width="1.1" />
<line x1="149.10" y1="538.60" x2="183.80" y2="538.60" stroke="#1e1e1e" stroke-width="1.1" />
<text x="145.90" y="540.80" font-size="6.2" fill="#3c3c3c" text-anchor="end" >0</text>
<line x1="149.10" y1="525.86" x2="152.30" y2="525.86" stroke="#1e1e1e" stroke-width="0.9" />
<text x="145.90" y="528.06" font-size="6.2" fill="#3c3c3c" text-anchor="end" >10</text>
<line x1="149.10" y1="513.12" x2="152.30" y2="513.12" stroke="#1e1e1e" stroke-width="0.9" />
<text x="145.90" y="515.32" font-size="6.2" fill="#3c3c3c" text-anchor="end" >20</text>
<line x1="149.10" y1="500.38" x2="152.30" y2="500.38" stroke="#1e1e1e" stroke-width="0.9" />
<text x="145.90" y="502.58" font-size="6.2" fill="#3c3c3c" text-anchor="end" >30</text>
<line x1="149.10" y1="487.64" x2="152.30" y2="487.64" stroke="#1e1e1e" stroke-width="0.9" />
<text x="145.90" y="489.84" font-size="6.2" fill="#3c3c3c" text-anchor="end" >40</text>
<line x1="149.10" y1="474.90" x2="152.30" y2="474.90" stroke="#1e1e1e" stroke-width="0.9" />
<text x="145.90" y="477.10" font-size="6.2" fill="#3c3c3c" text-anchor="end" >50</text>
<rect x="158.20" y="508.92" width="7.80" height="29.68" fill="#e2887a" />
<rect x="170.10" y="499.11" width="7.30" height="39.49" fill="#8d9cc0" />
<line x1="162.10" y1="504.46" x2="162.10" y2="508.92" stroke="#5a1a20" stroke-width="0.7" />
<line x1="160.80" y1="504.46" x2="163.40" y2="504.46" stroke="#5a1a20" stroke-width="0.7" />
<line x1="173.20" y1="492.10" x2="173.20" y2="499.11" stroke="#2a4a70" stroke-width="0.7" />
<line x1="171.90" y1="492.10" x2="174.50" y2="492.10" stroke="#2a4a70" stroke-width="0.7" />
<g fill="#7c1429" stroke="#32060f" stroke-width="0.55"><circle cx="160.20" cy="497.80" r="1.65"/><circle cx="164.40" cy="497.50" r="1.65"/><circle cx="162.10" cy="505.80" r="1.65"/><circle cx="160.70" cy="514.10" r="1.65"/><circle cx="163.90" cy="514.10" r="1.65"/><circle cx="162.30" cy="515.70" r="1.65"/></g>
<g fill="#194a80" stroke="#0a2242" stroke-width="0.55"><circle cx="173.20" cy="478.10" r="1.65"/><circle cx="171.70" cy="494.90" r="1.65"/><circle cx="175.30" cy="494.90" r="1.65"/><circle cx="171.70" cy="514.10" r="1.65"/><circle cx="175.30" cy="512.60" r="1.65"/></g>
<text x="0" y="0" font-size="7.1" fill="#3c3c3c" style="stroke-width:0.28px" text-anchor="middle" transform="translate(121.85,505.60) rotate(-90)" textLength="48" lengthAdjust="spacingAndGlyphs">Bone marrow cells</text>
<text x="0" y="0" font-size="7.1" fill="#3c3c3c" style="stroke-width:0.28px" text-anchor="middle" transform="translate(132.50,505.80) rotate(-90)" textLength="36.4" lengthAdjust="spacingAndGlyphs">(×10<tspan font-size="4.4" dy="-2.2">6</tspan><tspan dy="2.2">)/mouse</tspan></text>
<line x1="236.50" y1="472.20" x2="236.50" y2="539.10" stroke="#1e1e1e" stroke-width="1.1" />
<line x1="233.30" y1="538.60" x2="268.00" y2="538.60" stroke="#1e1e1e" stroke-width="1.1" />
<text x="230.10" y="540.80" font-size="6.2" fill="#3c3c3c" text-anchor="end" >0</text>
<line x1="233.30" y1="522.68" x2="236.50" y2="522.68" stroke="#1e1e1e" stroke-width="0.9" />
<text x="230.10" y="524.88" font-size="6.2" fill="#3c3c3c" text-anchor="end" >5</text>
<line x1="233.30" y1="506.75" x2="236.50" y2="506.75" stroke="#1e1e1e" stroke-width="0.9" />
<text x="230.10" y="508.95" font-size="6.2" fill="#3c3c3c" text-anchor="end" >10</text>
<line x1="233.30" y1="490.83" x2="236.50" y2="490.83" stroke="#1e1e1e" stroke-width="0.9" />
<text x="230.10" y="493.03" font-size="6.2" fill="#3c3c3c" text-anchor="end" >15</text>
<line x1="233.30" y1="474.90" x2="236.50" y2="474.90" stroke="#1e1e1e" stroke-width="0.9" />
<text x="230.10" y="477.10" font-size="6.2" fill="#3c3c3c" text-anchor="end" >20</text>
<rect x="243.00" y="523.31" width="7.80" height="15.29" fill="#e2887a" />
<rect x="254.70" y="509.94" width="7.20" height="28.67" fill="#8d9cc0" />
<line x1="258.30" y1="500.70" x2="258.30" y2="509.94" stroke="#2a4a70" stroke-width="0.7" />
<line x1="257.00" y1="500.70" x2="259.60" y2="500.70" stroke="#2a4a70" stroke-width="0.7" />
<g fill="#7c1429" stroke="#32060f" stroke-width="0.55"><circle cx="243.00" cy="517.20" r="1.65"/><circle cx="248.60" cy="516.10" r="1.65"/><circle cx="244.70" cy="520.00" r="1.65"/><circle cx="248.60" cy="522.80" r="1.65"/><circle cx="245.80" cy="526.70" r="1.65"/><circle cx="247.40" cy="528.90" r="1.65"/></g>
<g fill="#194a80" stroke="#0a2242" stroke-width="0.55"><circle cx="258.00" cy="479.40" r="1.65"/><circle cx="256.30" cy="510.60" r="1.65"/><circle cx="260.20" cy="510.60" r="1.65"/><circle cx="256.30" cy="523.30" r="1.65"/><circle cx="260.20" cy="521.10" r="1.65"/></g>
<line x1="246.90" y1="473.30" x2="258.00" y2="473.30" stroke="#666" stroke-width="0.7" />
<text x="251.6" y="472.0" font-size="6.6" fill="#3c3c3c" text-anchor="middle" textLength="25" lengthAdjust="spacingAndGlyphs"><tspan font-style="italic">P</tspan> = .075</text>
<text x="0" y="0" font-size="7.1" fill="#3c3c3c" style="stroke-width:0.28px" text-anchor="middle" transform="translate(205.45,505.30) rotate(-90)" textLength="40.4" lengthAdjust="spacingAndGlyphs">Lineage<tspan font-size="4.2" dy="-2.2">neg</tspan><tspan dy="2.2"> cells</tspan></text>
<text x="0" y="0" font-size="7.1" fill="#3c3c3c" style="stroke-width:0.28px" text-anchor="middle" transform="translate(216.80,506.00) rotate(-90)" textLength="37" lengthAdjust="spacingAndGlyphs">(×10<tspan font-size="4.4" dy="-2.2">6</tspan><tspan dy="2.2">)/mouse</tspan></text>
<line x1="317.80" y1="472.20" x2="317.80" y2="539.10" stroke="#1e1e1e" stroke-width="1.1" />
<line x1="314.60" y1="538.60" x2="348.80" y2="538.60" stroke="#1e1e1e" stroke-width="1.1" />
<text x="311.40" y="540.80" font-size="6.2" fill="#3c3c3c" text-anchor="end" >0</text>
<line x1="314.60" y1="525.86" x2="317.80" y2="525.86" stroke="#1e1e1e" stroke-width="0.9" />
<text x="311.40" y="528.06" font-size="6.2" fill="#3c3c3c" text-anchor="end" >20</text>
<line x1="314.60" y1="513.12" x2="317.80" y2="513.12" stroke="#1e1e1e" stroke-width="0.9" />
<text x="311.40" y="515.32" font-size="6.2" fill="#3c3c3c" text-anchor="end" >40</text>
<line x1="314.60" y1="500.38" x2="317.80" y2="500.38" stroke="#1e1e1e" stroke-width="0.9" />
<text x="311.40" y="502.58" font-size="6.2" fill="#3c3c3c" text-anchor="end" >60</text>
<line x1="314.60" y1="487.64" x2="317.80" y2="487.64" stroke="#1e1e1e" stroke-width="0.9" />
<text x="311.40" y="489.84" font-size="6.2" fill="#3c3c3c" text-anchor="end" >80</text>
<line x1="314.60" y1="474.90" x2="317.80" y2="474.90" stroke="#1e1e1e" stroke-width="0.9" />
<text x="311.40" y="477.10" font-size="6.2" fill="#3c3c3c" text-anchor="end" >100</text>
<rect x="324.20" y="504.84" width="7.70" height="33.76" fill="#e2887a" />
<rect x="336.10" y="523.95" width="6.70" height="14.65" fill="#8d9cc0" />
<line x1="328.00" y1="496.56" x2="328.00" y2="504.84" stroke="#7a6060" stroke-width="0.7" />
<line x1="326.70" y1="496.56" x2="329.30" y2="496.56" stroke="#7a6060" stroke-width="0.7" />
<g fill="#7c1429" stroke="#32060f" stroke-width="0.55"><circle cx="327.80" cy="486.60" r="1.65"/><circle cx="326.20" cy="496.50" r="1.65"/><circle cx="329.90" cy="496.50" r="1.65"/><circle cx="327.80" cy="512.60" r="1.65"/><circle cx="326.20" cy="521.90" r="1.65"/><circle cx="329.90" cy="521.90" r="1.65"/></g>
<g fill="#194a80" stroke="#0a2242" stroke-width="0.55"><circle cx="339.20" cy="518.00" r="1.65"/><circle cx="341.30" cy="521.40" r="1.65"/><circle cx="338.20" cy="524.50" r="1.65"/><circle cx="340.20" cy="525.00" r="1.65"/><circle cx="339.20" cy="530.20" r="1.65"/></g>
<line x1="327.30" y1="479.90" x2="338.70" y2="479.90" stroke="#666" stroke-width="0.7" />
<line x1="327.30" y1="479.90" x2="327.30" y2="480.70" stroke="#666" stroke-width="0.6" />
<line x1="338.70" y1="479.90" x2="338.70" y2="480.70" stroke="#666" stroke-width="0.6" />
<text x="333.00" y="479.40" font-size="6.0" fill="#333" text-anchor="middle" >*</text>
<text x="0" y="0" font-size="7.1" fill="#3c3c3c" style="stroke-width:0.28px" text-anchor="middle" transform="translate(294.10,505.80) rotate(-90)" textLength="49.4" lengthAdjust="spacingAndGlyphs">LSK (×10<tspan font-size="4.4" dy="-2.2">3</tspan><tspan dy="2.2">)/mouse</tspan></text>
<line x1="403.80" y1="472.20" x2="403.80" y2="539.10" stroke="#1e1e1e" stroke-width="1.1" />
<line x1="400.60" y1="538.60" x2="434.50" y2="538.60" stroke="#1e1e1e" stroke-width="1.1" />
<text x="397.40" y="540.80" font-size="6.2" fill="#3c3c3c" text-anchor="end" >0</text>
<line x1="400.60" y1="525.86" x2="403.80" y2="525.86" stroke="#1e1e1e" stroke-width="0.9" />
<text x="397.40" y="528.06" font-size="6.2" fill="#3c3c3c" text-anchor="end" >0.5</text>
<line x1="400.60" y1="513.12" x2="403.80" y2="513.12" stroke="#1e1e1e" stroke-width="0.9" />
<text x="397.40" y="515.32" font-size="6.2" fill="#3c3c3c" text-anchor="end" >1.0</text>
<line x1="400.60" y1="500.38" x2="403.80" y2="500.38" stroke="#1e1e1e" stroke-width="0.9" />
<text x="397.40" y="502.58" font-size="6.2" fill="#3c3c3c" text-anchor="end" >1.5</text>
<line x1="400.60" y1="487.64" x2="403.80" y2="487.64" stroke="#1e1e1e" stroke-width="0.9" />
<text x="397.40" y="489.84" font-size="6.2" fill="#3c3c3c" text-anchor="end" >2.0</text>
<line x1="400.60" y1="474.90" x2="403.80" y2="474.90" stroke="#1e1e1e" stroke-width="0.9" />
<text x="397.40" y="477.10" font-size="6.2" fill="#3c3c3c" text-anchor="end" >2.5</text>
<rect x="409.20" y="510.06" width="7.80" height="28.54" fill="#e2887a" />
<rect x="421.10" y="531.21" width="7.80" height="7.39" fill="#8d9cc0" />
<g fill="#7c1429" stroke="#32060f" stroke-width="0.55"><circle cx="413.30" cy="484.00" r="1.65"/><circle cx="413.90" cy="506.90" r="1.65"/><circle cx="415.60" cy="507.20" r="1.65"/><circle cx="411.80" cy="509.50" r="1.65"/><circle cx="413.30" cy="515.20" r="1.65"/><circle cx="413.30" cy="519.80" r="1.65"/><circle cx="413.30" cy="525.00" r="1.65"/></g>
<g fill="#194a80" stroke="#0a2242" stroke-width="0.55"><circle cx="424.80" cy="521.40" r="1.65"/><circle cx="424.80" cy="528.20" r="1.65"/><circle cx="423.20" cy="532.30" r="1.65"/><circle cx="426.40" cy="532.50" r="1.65"/><circle cx="424.80" cy="534.90" r="1.65"/></g>
<line x1="413.30" y1="477.30" x2="424.20" y2="477.30" stroke="#666" stroke-width="0.7" />
<line x1="413.30" y1="477.30" x2="413.30" y2="478.10" stroke="#666" stroke-width="0.6" />
<line x1="424.20" y1="477.30" x2="424.20" y2="478.10" stroke="#666" stroke-width="0.6" />
<text x="418.75" y="476.80" font-size="6.0" fill="#333" text-anchor="middle" >**</text>
<text x="0" y="0" font-size="7.1" fill="#3c3c3c" style="stroke-width:0.28px" text-anchor="middle" transform="translate(371.60,505.00) rotate(-90)" textLength="35" lengthAdjust="spacingAndGlyphs">% LSK within</text>
<text x="0" y="0" font-size="7.1" fill="#3c3c3c" style="stroke-width:0.28px" text-anchor="middle" transform="translate(381.80,505.00) rotate(-90)" textLength="39" lengthAdjust="spacingAndGlyphs">lineage<tspan font-size="4.2" dy="-2.2">neg</tspan><tspan dy="2.2"> cells</tspan></text>
<rect x="440.20" y="499.40" width="5.30" height="5.20" fill="#8b1a2b" />
<rect x="440.20" y="509.50" width="5.30" height="5.20" fill="#1f4e80" />
<text x="448.80" y="504.20" font-size="6.1" fill="#3c3c3c" font-style="italic" textLength="14.5" lengthAdjust="spacingAndGlyphs" style="stroke-width:0.2px">Nfat5</text>
<text x="463.70" y="501.90" font-size="4.5" fill="#3c3c3c" textLength="6.6" lengthAdjust="spacingAndGlyphs" style="stroke-width:0.14px">+/+</text>
<text x="473.10" y="504.20" font-size="6.1" fill="#3c3c3c" textLength="22.10" lengthAdjust="spacingAndGlyphs" style="stroke-width:0.2px">Vav-Cre</text>
<text x="448.80" y="514.30" font-size="6.1" fill="#3c3c3c" font-style="italic" textLength="14.5" lengthAdjust="spacingAndGlyphs" style="stroke-width:0.2px">Nfat5</text>
<text x="463.70" y="512.00" font-size="4.5" fill="#3c3c3c" textLength="5.4" lengthAdjust="spacingAndGlyphs" style="stroke-width:0.14px">fl/fl</text>
<text x="472.00" y="514.30" font-size="6.1" fill="#3c3c3c" textLength="21.80" lengthAdjust="spacingAndGlyphs" style="stroke-width:0.2px">Vav-Cre</text>
<line x1="105.30" y1="577.40" x2="105.30" y2="644.30" stroke="#1e1e1e" stroke-width="1.1" />
<line x1="102.10" y1="643.80" x2="224.50" y2="643.80" stroke="#1e1e1e" stroke-width="1.1" />
<text x="98.90" y="646.00" font-size="6.2" fill="#3c3c3c" text-anchor="end" >0</text>
<line x1="102.10" y1="627.88" x2="105.30" y2="627.88" stroke="#1e1e1e" stroke-width="0.9" />
<text x="98.90" y="630.08" font-size="6.2" fill="#3c3c3c" text-anchor="end" >20</text>
<line x1="102.10" y1="611.95" x2="105.30" y2="611.95" stroke="#1e1e1e" stroke-width="0.9" />
<text x="98.90" y="614.15" font-size="6.2" fill="#3c3c3c" text-anchor="end" >40</text>
<line x1="102.10" y1="596.02" x2="105.30" y2="596.02" stroke="#1e1e1e" stroke-width="0.9" />
<text x="98.90" y="598.22" font-size="6.2" fill="#3c3c3c" text-anchor="end" >60</text>
<line x1="102.10" y1="580.10" x2="105.30" y2="580.10" stroke="#1e1e1e" stroke-width="0.9" />
<text x="98.90" y="582.30" font-size="6.2" fill="#3c3c3c" text-anchor="end" >80</text>
<text x="0" y="0" font-size="7.1" fill="#3c3c3c" style="stroke-width:0.28px" text-anchor="middle" transform="translate(74.20,610.50) rotate(-90)" textLength="55.6" lengthAdjust="spacingAndGlyphs">% Progenitor subsets</text>
<text x="0" y="0" font-size="7.1" fill="#3c3c3c" style="stroke-width:0.28px" text-anchor="middle" transform="translate(85.90,610.50) rotate(-90)" textLength="28" lengthAdjust="spacingAndGlyphs">within LSK</text>
<g fill="#7c1429" stroke="#32060f" stroke-width="0.55"><circle cx="114.60" cy="603.80" r="1.65"/><circle cx="112.50" cy="611.00" r="1.65"/><circle cx="116.80" cy="610.50" r="1.65"/><circle cx="111.90" cy="615.30" r="1.65"/><circle cx="115.20" cy="615.30" r="1.65"/><circle cx="117.30" cy="615.30" r="1.65"/><circle cx="114.10" cy="618.50" r="1.65"/><circle cx="114.60" cy="628.80" r="1.65"/></g>
<line x1="110.80" y1="615.30" x2="118.40" y2="615.30" stroke="#3a1a1a" stroke-width="0.8" />
<g fill="#194a80" stroke="#0a2242" stroke-width="0.55"><circle cx="126.50" cy="618.50" r="1.65"/><circle cx="124.30" cy="626.10" r="1.65"/><circle cx="127.50" cy="625.50" r="1.65"/><circle cx="128.60" cy="627.20" r="1.65"/><circle cx="125.90" cy="630.40" r="1.65"/></g>
<line x1="122.60" y1="625.50" x2="129.80" y2="625.50" stroke="#1b3c60" stroke-width="0.8" />
<g fill="#7c1429" stroke="#32060f" stroke-width="0.55"><circle cx="144.80" cy="614.60" r="1.65"/><circle cx="145.30" cy="623.40" r="1.65"/><circle cx="143.20" cy="628.20" r="1.65"/><circle cx="146.40" cy="629.30" r="1.65"/><circle cx="143.70" cy="632.00" r="1.65"/><circle cx="146.90" cy="632.50" r="1.65"/><circle cx="144.80" cy="637.40" r="1.65"/></g>
<line x1="141.20" y1="628.20" x2="148.80" y2="628.20" stroke="#3a1a1a" stroke-width="0.8" />
<g fill="#194a80" stroke="#0a2242" stroke-width="0.55"><circle cx="157.20" cy="604.00" r="1.65"/><circle cx="155.00" cy="612.60" r="1.65"/><circle cx="158.80" cy="612.60" r="1.65"/><circle cx="157.00" cy="613.20" r="1.65"/><circle cx="158.80" cy="618.50" r="1.65"/><circle cx="155.00" cy="621.20" r="1.65"/></g>
<line x1="153.40" y1="613.20" x2="160.60" y2="613.20" stroke="#1b3c60" stroke-width="0.8" />
<g fill="#7c1429" stroke="#32060f" stroke-width="0.55"><circle cx="175.70" cy="632.50" r="1.65"/><circle cx="173.00" cy="637.90" r="1.65"/><circle cx="177.80" cy="637.90" r="1.65"/><circle cx="175.20" cy="639.50" r="1.65"/><circle cx="173.50" cy="641.20" r="1.65"/><circle cx="176.80" cy="641.20" r="1.65"/><circle cx="175.20" cy="641.80" r="1.65"/></g>
<g fill="#194a80" stroke="#0a2242" stroke-width="0.55"><circle cx="185.40" cy="641.20" r="1.65"/><circle cx="188.60" cy="641.70" r="1.65"/><circle cx="190.80" cy="642.20" r="1.65"/><circle cx="187.00" cy="642.00" r="1.65"/></g>
<g fill="#7c1429" stroke="#32060f" stroke-width="0.55"><circle cx="206.00" cy="596.40" r="1.65"/><circle cx="206.00" cy="608.40" r="1.65"/><circle cx="203.60" cy="613.30" r="1.65"/><circle cx="208.00" cy="612.90" r="1.65"/><circle cx="205.60" cy="614.90" r="1.65"/><circle cx="203.60" cy="620.50" r="1.65"/><circle cx="208.00" cy="619.70" r="1.65"/></g>
<line x1="202.00" y1="614.00" x2="209.60" y2="614.00" stroke="#3a1a1a" stroke-width="0.8" />
<g fill="#194a80" stroke="#0a2242" stroke-width="0.55"><circle cx="215.60" cy="607.20" r="1.65"/><circle cx="218.10" cy="606.40" r="1.65"/><circle cx="219.70" cy="611.30" r="1.65"/><circle cx="217.70" cy="612.00" r="1.65"/><circle cx="220.00" cy="618.10" r="1.65"/><circle cx="216.00" cy="620.50" r="1.65"/></g>
<line x1="214.10" y1="612.90" x2="221.70" y2="612.90" stroke="#1b3c60" stroke-width="0.8" />
<line x1="114.10" y1="595.40" x2="125.90" y2="595.40" stroke="#666" stroke-width="0.7" />
<line x1="114.10" y1="595.40" x2="114.10" y2="596.20" stroke="#666" stroke-width="0.6" />
<line x1="125.90" y1="595.40" x2="125.90" y2="596.20" stroke="#666" stroke-width="0.6" />
<text x="120.00" y="594.90" font-size="6.0" fill="#333" text-anchor="middle" >*</text>
<line x1="145.30" y1="596.50" x2="156.60" y2="596.50" stroke="#666" stroke-width="0.7" />
<line x1="145.30" y1="596.50" x2="145.30" y2="597.30" stroke="#666" stroke-width="0.6" />
<line x1="156.60" y1="596.50" x2="156.60" y2="597.30" stroke="#666" stroke-width="0.6" />
<text x="150.95" y="596.00" font-size="6.0" fill="#333" text-anchor="middle" >**</text>
<line x1="175.20" y1="625.00" x2="187.00" y2="625.00" stroke="#666" stroke-width="0.7" />
<line x1="175.20" y1="625.00" x2="175.20" y2="625.80" stroke="#666" stroke-width="0.6" />
<line x1="187.00" y1="625.00" x2="187.00" y2="625.80" stroke="#666" stroke-width="0.6" />
<text x="181.10" y="624.50" font-size="6.0" fill="#333" text-anchor="middle" >*</text>
<line x1="114.40" y1="648.40" x2="127.00" y2="648.40" stroke="#606060" stroke-width="0.85" />
<line x1="144.40" y1="648.40" x2="157.00" y2="648.40" stroke="#606060" stroke-width="0.85" />
<line x1="174.40" y1="648.40" x2="187.00" y2="648.40" stroke="#606060" stroke-width="0.85" />
<line x1="205.60" y1="648.40" x2="218.20" y2="648.40" stroke="#606060" stroke-width="0.85" />
<text x="120.70" y="657.30" font-size="6.85" fill="#3c3c3c" text-anchor="middle" textLength="13.45" lengthAdjust="spacingAndGlyphs" style="stroke-width:0.1px">HSC</text>
<text x="151.20" y="657.30" font-size="6.85" fill="#3c3c3c" text-anchor="middle" textLength="20.01" lengthAdjust="spacingAndGlyphs" style="stroke-width:0.1px">CD48−</text>
<text x="150.70" y="664.90" font-size="6.85" fill="#3c3c3c" text-anchor="middle" textLength="23.55" lengthAdjust="spacingAndGlyphs" style="stroke-width:0.1px">CD150−</text>
<text x="181.20" y="657.30" font-size="6.85" fill="#3c3c3c" text-anchor="middle" textLength="20.01" lengthAdjust="spacingAndGlyphs" style="stroke-width:0.1px">CD48+</text>
<text x="181.80" y="664.90" font-size="6.85" fill="#3c3c3c" text-anchor="middle" textLength="23.55" lengthAdjust="spacingAndGlyphs" style="stroke-width:0.1px">CD150+</text>
<text x="212.40" y="657.30" font-size="6.85" fill="#3c3c3c" text-anchor="middle" textLength="13.8" lengthAdjust="spacingAndGlyphs" style="stroke-width:0.1px">MPP</text>
<line x1="277.40" y1="577.40" x2="277.40" y2="644.30" stroke="#1e1e1e" stroke-width="1.1" />
<line x1="274.20" y1="643.80" x2="400.00" y2="643.80" stroke="#1e1e1e" stroke-width="1.1" />
<text x="271.00" y="646.00" font-size="6.2" fill="#3c3c3c" text-anchor="end" >0</text>
<line x1="274.20" y1="631.06" x2="277.40" y2="631.06" stroke="#1e1e1e" stroke-width="0.9" />
<text x="271.00" y="633.26" font-size="6.2" fill="#3c3c3c" text-anchor="end" >10</text>
<line x1="274.20" y1="618.32" x2="277.40" y2="618.32" stroke="#1e1e1e" stroke-width="0.9" />
<text x="271.00" y="620.52" font-size="6.2" fill="#3c3c3c" text-anchor="end" >20</text>
<line x1="274.20" y1="605.58" x2="277.40" y2="605.58" stroke="#1e1e1e" stroke-width="0.9" />
<text x="271.00" y="607.78" font-size="6.2" fill="#3c3c3c" text-anchor="end" >30</text>
<line x1="274.20" y1="592.84" x2="277.40" y2="592.84" stroke="#1e1e1e" stroke-width="0.9" />
<text x="271.00" y="595.04" font-size="6.2" fill="#3c3c3c" text-anchor="end" >40</text>
<line x1="274.20" y1="580.10" x2="277.40" y2="580.10" stroke="#1e1e1e" stroke-width="0.9" />
<text x="271.00" y="582.30" font-size="6.2" fill="#3c3c3c" text-anchor="end" >50</text>
<text x="0" y="0" font-size="7.1" fill="#3c3c3c" style="stroke-width:0.28px" text-anchor="middle" transform="translate(246.30,610.50) rotate(-90)" textLength="55.6" lengthAdjust="spacingAndGlyphs">Progenitor subset cell</text>
<text x="0" y="0" font-size="7.1" fill="#3c3c3c" style="stroke-width:0.28px" text-anchor="middle" transform="translate(257.50,610.30) rotate(-90)" textLength="58.2" lengthAdjust="spacingAndGlyphs">number (×10<tspan font-size="4.4" dy="-2.2">3</tspan><tspan dy="2.2">)/mouse</tspan></text>
<g fill="#7c1429" stroke="#32060f" stroke-width="0.55"><circle cx="287.50" cy="601.60" r="1.65"/><circle cx="291.80" cy="601.60" r="1.65"/><circle cx="289.70" cy="613.50" r="1.65"/><circle cx="289.70" cy="622.10" r="1.65"/><circle cx="289.70" cy="627.70" r="1.65"/><circle cx="287.50" cy="633.10" r="1.65"/><circle cx="291.80" cy="632.00" r="1.65"/></g>
<line x1="285.50" y1="618.90" x2="293.90" y2="618.90" stroke="#3a1a1a" stroke-width="0.8" />
<line x1="289.70" y1="613.40" x2="289.70" y2="624.40" stroke="#3a1a1a" stroke-width="0.6" />
<line x1="288.50" y1="613.40" x2="290.90" y2="613.40" stroke="#3a1a1a" stroke-width="0.6" />
<line x1="288.50" y1="624.40" x2="290.90" y2="624.40" stroke="#3a1a1a" stroke-width="0.6" />
<g fill="#194a80" stroke="#0a2242" stroke-width="0.55"><circle cx="299.90" cy="634.70" r="1.65"/><circle cx="303.70" cy="634.70" r="1.65"/><circle cx="301.50" cy="636.80" r="1.65"/><circle cx="299.40" cy="637.40" r="1.65"/><circle cx="303.90" cy="637.40" r="1.65"/><circle cx="302.10" cy="640.60" r="1.65"/></g>
<g fill="#7c1429" stroke="#32060f" stroke-width="0.55"><circle cx="318.20" cy="628.20" r="1.65"/><circle cx="320.90" cy="630.90" r="1.65"/><circle cx="317.70" cy="632.50" r="1.65"/><circle cx="323.10" cy="632.00" r="1.65"/><circle cx="320.40" cy="634.20" r="1.65"/><circle cx="318.60" cy="635.00" r="1.65"/><circle cx="321.50" cy="636.30" r="1.65"/><circle cx="319.80" cy="636.50" r="1.65"/></g>
<g fill="#194a80" stroke="#0a2242" stroke-width="0.55"><circle cx="330.60" cy="630.40" r="1.65"/><circle cx="333.80" cy="630.40" r="1.65"/><circle cx="331.70" cy="632.50" r="1.65"/><circle cx="330.10" cy="633.60" r="1.65"/><circle cx="334.10" cy="633.60" r="1.65"/><circle cx="332.80" cy="635.20" r="1.65"/></g>
<g fill="#7c1429" stroke="#32060f" stroke-width="0.55"><circle cx="350.80" cy="631.60" r="1.65"/><circle cx="348.90" cy="637.80" r="1.65"/><circle cx="352.60" cy="636.50" r="1.65"/><circle cx="350.20" cy="639.60" r="1.65"/><circle cx="352.80" cy="639.80" r="1.65"/><circle cx="348.60" cy="640.50" r="1.65"/><circle cx="351.40" cy="642.10" r="1.65"/></g>
<g fill="#194a80" stroke="#0a2242" stroke-width="0.55"><circle cx="360.60" cy="642.70" r="1.65"/><circle cx="363.70" cy="642.70" r="1.65"/><circle cx="366.20" cy="642.90" r="1.65"/></g>
<g fill="#7c1429" stroke="#32060f" stroke-width="0.55"><circle cx="381.50" cy="593.20" r="1.65"/><circle cx="379.10" cy="603.60" r="1.65"/><circle cx="383.40" cy="606.40" r="1.65"/><circle cx="381.50" cy="618.70" r="1.65"/><circle cx="381.50" cy="625.70" r="1.65"/><circle cx="379.10" cy="633.80" r="1.65"/><circle cx="383.40" cy="631.40" r="1.65"/></g>
<line x1="377.20" y1="616.20" x2="385.80" y2="616.20" stroke="#3a1a1a" stroke-width="0.8" />
<line x1="381.50" y1="610.40" x2="381.50" y2="622.00" stroke="#3a1a1a" stroke-width="0.6" />
<line x1="380.30" y1="610.40" x2="382.70" y2="610.40" stroke="#3a1a1a" stroke-width="0.6" />
<line x1="380.30" y1="622.00" x2="382.70" y2="622.00" stroke="#3a1a1a" stroke-width="0.6" />
<g fill="#194a80" stroke="#0a2242" stroke-width="0.55"><circle cx="393.20" cy="625.20" r="1.65"/><circle cx="392.00" cy="630.60" r="1.65"/><circle cx="395.70" cy="630.60" r="1.65"/><circle cx="393.80" cy="631.50" r="1.65"/><circle cx="395.70" cy="635.30" r="1.65"/><circle cx="391.40" cy="638.40" r="1.65"/></g>
<line x1="389.80" y1="631.20" x2="397.40" y2="631.20" stroke="#1b3c60" stroke-width="0.8" />
<line x1="288.60" y1="595.40" x2="299.90" y2="595.40" stroke="#666" stroke-width="0.7" />
<line x1="288.60" y1="595.40" x2="288.60" y2="596.20" stroke="#666" stroke-width="0.6" />
<line x1="299.90" y1="595.40" x2="299.90" y2="596.20" stroke="#666" stroke-width="0.6" />
<text x="294.25" y="594.90" font-size="6.0" fill="#333" text-anchor="middle" >*</text>
<line x1="349.50" y1="625.50" x2="361.80" y2="625.50" stroke="#666" stroke-width="0.7" />
<line x1="349.50" y1="625.50" x2="349.50" y2="626.30" stroke="#666" stroke-width="0.6" />
<line x1="361.80" y1="625.50" x2="361.80" y2="626.30" stroke="#666" stroke-width="0.6" />
<text x="355.65" y="625.00" font-size="6.0" fill="#333" text-anchor="middle" >*</text>
<line x1="380.30" y1="586.30" x2="391.40" y2="586.30" stroke="#666" stroke-width="0.7" />
<text x="385.9" y="584.4" font-size="6.6" fill="#3c3c3c" text-anchor="middle" textLength="24.7" lengthAdjust="spacingAndGlyphs"><tspan font-style="italic">P</tspan> = .054</text>
<line x1="288.40" y1="648.40" x2="301.00" y2="648.40" stroke="#606060" stroke-width="0.85" />
<line x1="319.00" y1="648.40" x2="331.60" y2="648.40" stroke="#606060" stroke-width="0.85" />
<line x1="349.50" y1="648.40" x2="362.10" y2="648.40" stroke="#606060" stroke-width="0.85" />
<line x1="380.70" y1="648.40" x2="393.30" y2="648.40" stroke="#606060" stroke-width="0.85" />
<text x="294.70" y="657.30" font-size="6.85" fill="#3c3c3c" text-anchor="middle" textLength="13.45" lengthAdjust="spacingAndGlyphs" style="stroke-width:0.1px">HSC</text>
<text x="325.30" y="657.30" font-size="6.85" fill="#3c3c3c" text-anchor="middle" textLength="18.52" lengthAdjust="spacingAndGlyphs" style="stroke-width:0.1px">CD48<tspan font-size="4.11" dy="-2.6">−</tspan></text>
<text x="325.30" y="665.20" font-size="6.85" fill="#3c3c3c" text-anchor="middle" textLength="22.06" lengthAdjust="spacingAndGlyphs" style="stroke-width:0.1px">CD150<tspan font-size="4.11" dy="-2.6">−</tspan></text>
<text x="355.30" y="657.30" font-size="6.85" fill="#3c3c3c" text-anchor="middle" textLength="18.52" lengthAdjust="spacingAndGlyphs" style="stroke-width:0.1px">CD48<tspan font-size="4.11" dy="-2.6">+</tspan></text>
<text x="355.30" y="665.20" font-size="6.85" fill="#3c3c3c" text-anchor="middle" textLength="22.06" lengthAdjust="spacingAndGlyphs" style="stroke-width:0.1px">CD150<tspan font-size="4.11" dy="-2.6">+</tspan></text>
<text x="387.50" y="657.30" font-size="6.85" fill="#3c3c3c" text-anchor="middle" textLength="13.8" lengthAdjust="spacingAndGlyphs" style="stroke-width:0.1px">MPP</text>
<circle cx="412.10" cy="607.20" r="2.6" fill="#8b1a2b"/>
<circle cx="412.10" cy="617.50" r="2.6" fill="#1f4e80"/>
<text x="417.40" y="608.80" font-size="6.1" fill="#3c3c3c" font-style="italic" textLength="14.5" lengthAdjust="spacingAndGlyphs" style="stroke-width:0.2px">Nfat5</text>
<text x="432.30" y="606.50" font-size="4.5" fill="#3c3c3c" textLength="6.6" lengthAdjust="spacingAndGlyphs" style="stroke-width:0.14px">+/+</text>
<text x="441.70" y="608.80" font-size="6.1" fill="#3c3c3c" textLength="22.20" lengthAdjust="spacingAndGlyphs" style="stroke-width:0.2px">Vav-Cre</text>
<text x="417.40" y="619.30" font-size="6.1" fill="#3c3c3c" font-style="italic" textLength="14.5" lengthAdjust="spacingAndGlyphs" style="stroke-width:0.2px">Nfat5</text>
<text x="432.30" y="617.00" font-size="4.5" fill="#3c3c3c" textLength="5.4" lengthAdjust="spacingAndGlyphs" style="stroke-width:0.14px">fl/fl</text>
<text x="440.60" y="619.30" font-size="6.1" fill="#3c3c3c" textLength="21.80" lengthAdjust="spacingAndGlyphs" style="stroke-width:0.2px">Vav-Cre</text>
</svg></body></html>
